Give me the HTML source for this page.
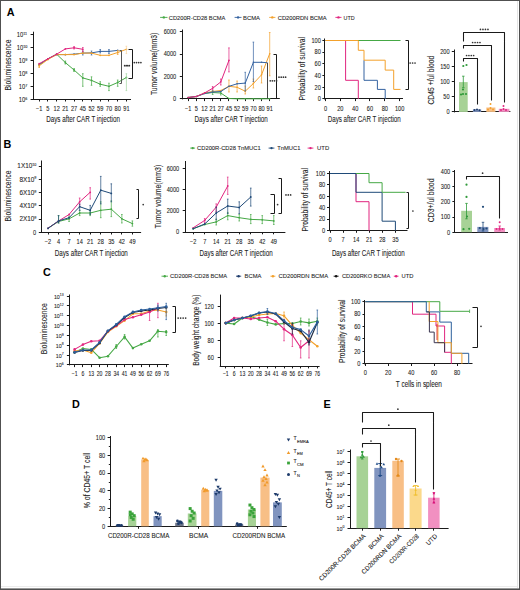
<!DOCTYPE html>
<html><head><meta charset="utf-8"><style>
html,body{margin:0;padding:0;background:#fff;}
body{width:520px;height:590px;overflow:hidden;position:relative;font-family:"Liberation Sans",sans-serif;}
svg{display:block;}
svg text{stroke:#222;stroke-width:0.08px;}
svg text[font-weight]{stroke:none;}
.frame{position:absolute;left:0;top:0;width:520px;height:590px;box-sizing:border-box;border:1px solid #505050;pointer-events:none;}
.f2{position:absolute;left:517px;top:1px;width:1px;height:587px;background:#e4e4e4;}
.f4{position:absolute;left:0;top:588px;width:520px;height:1px;background:#9a9a9a;}
.f3{position:absolute;left:1px;top:586px;width:516px;height:1px;background:#ececec;}
</style></head><body>
<svg width="520" height="590" viewBox="0 0 520 590" font-family="Liberation Sans, sans-serif">
<rect x="0" y="0" width="520" height="590" fill="#ffffff"/>
<text x="6.8" y="15.9" font-size="10.8" fill="#000" font-weight="bold">A</text>
<line x1="160.1" y1="17.4" x2="167.5" y2="17.4" stroke="#45a845" stroke-width="0.9"/>
<circle cx="163.8" cy="17.4" r="1.2" fill="#45a845"/>
<text x="168.8" y="19.6" font-size="6.2" fill="#222" textLength="56.6" lengthAdjust="spacingAndGlyphs">CD200R-CD28 BCMA</text>
<line x1="234.6" y1="17.4" x2="241.5" y2="17.4" stroke="#3563a0" stroke-width="0.9"/>
<circle cx="238.05" cy="17.4" r="1.2" fill="#3563a0"/>
<text x="243" y="19.6" font-size="6.2" fill="#222" textLength="17" lengthAdjust="spacingAndGlyphs">BCMA</text>
<line x1="269.2" y1="17.4" x2="275.4" y2="17.4" stroke="#f3a12c" stroke-width="0.9"/>
<circle cx="272.3" cy="17.4" r="1.2" fill="#f3a12c"/>
<text x="277.7" y="19.6" font-size="6.2" fill="#222" textLength="49" lengthAdjust="spacingAndGlyphs">CD200RDN BCMA</text>
<line x1="335.4" y1="17.4" x2="341.5" y2="17.4" stroke="#e1257f" stroke-width="0.9"/>
<circle cx="338.45" cy="17.4" r="1.2" fill="#e1257f"/>
<text x="343.5" y="19.6" font-size="6.2" fill="#222" textLength="11.1" lengthAdjust="spacingAndGlyphs">UTD</text>
<line x1="33.5" y1="31.7" x2="33.5" y2="99.8" stroke="#1a1a1a" stroke-width="1"/>
<line x1="33.1" y1="99.5" x2="131" y2="99.5" stroke="#1a1a1a" stroke-width="1"/>
<line x1="30.6" y1="99.5" x2="33.6" y2="99.5" stroke="#1a1a1a" stroke-width="1"/>
<text x="18.85" y="102.07" font-size="6.3" fill="#222"><tspan textLength="6.45" lengthAdjust="spacingAndGlyphs">10</tspan><tspan font-size="3.78" dy="-2.52">6</tspan></text>
<line x1="30.6" y1="86.5" x2="33.6" y2="86.5" stroke="#1a1a1a" stroke-width="1"/>
<text x="18.85" y="89.07" font-size="6.3" fill="#222"><tspan textLength="6.45" lengthAdjust="spacingAndGlyphs">10</tspan><tspan font-size="3.78" dy="-2.52">7</tspan></text>
<line x1="30.6" y1="73.5" x2="33.6" y2="73.5" stroke="#1a1a1a" stroke-width="1"/>
<text x="18.85" y="76.07" font-size="6.3" fill="#222"><tspan textLength="6.45" lengthAdjust="spacingAndGlyphs">10</tspan><tspan font-size="3.78" dy="-2.52">8</tspan></text>
<line x1="30.6" y1="60.5" x2="33.6" y2="60.5" stroke="#1a1a1a" stroke-width="1"/>
<text x="18.85" y="63.07" font-size="6.3" fill="#222"><tspan textLength="6.45" lengthAdjust="spacingAndGlyphs">10</tspan><tspan font-size="3.78" dy="-2.52">9</tspan></text>
<line x1="30.6" y1="47.5" x2="33.6" y2="47.5" stroke="#1a1a1a" stroke-width="1"/>
<text x="16.75" y="50.07" font-size="6.3" fill="#222"><tspan textLength="6.45" lengthAdjust="spacingAndGlyphs">10</tspan><tspan font-size="3.78" dy="-2.52">10</tspan></text>
<line x1="30.6" y1="34.5" x2="33.6" y2="34.5" stroke="#1a1a1a" stroke-width="1"/>
<text x="16.75" y="37.07" font-size="6.3" fill="#222"><tspan textLength="6.45" lengthAdjust="spacingAndGlyphs">10</tspan><tspan font-size="3.78" dy="-2.52">11</tspan></text>
<line x1="39.5" y1="99.3" x2="39.5" y2="101.5" stroke="#1a1a1a" stroke-width="1"/>
<text x="39.2" y="110.6" font-size="6.4" fill="#222" text-anchor="middle" textLength="6.42" lengthAdjust="spacingAndGlyphs">−1</text>
<line x1="47.5" y1="99.3" x2="47.5" y2="101.5" stroke="#1a1a1a" stroke-width="1"/>
<text x="47.92" y="110.6" font-size="6.4" fill="#222" text-anchor="middle" textLength="3.13" lengthAdjust="spacingAndGlyphs">5</text>
<line x1="56.5" y1="99.3" x2="56.5" y2="101.5" stroke="#1a1a1a" stroke-width="1"/>
<text x="56.64" y="110.6" font-size="6.4" fill="#222" text-anchor="middle" textLength="6.26" lengthAdjust="spacingAndGlyphs">12</text>
<line x1="65.5" y1="99.3" x2="65.5" y2="101.5" stroke="#1a1a1a" stroke-width="1"/>
<text x="65.36" y="110.6" font-size="6.4" fill="#222" text-anchor="middle" textLength="6.26" lengthAdjust="spacingAndGlyphs">21</text>
<line x1="74.5" y1="99.3" x2="74.5" y2="101.5" stroke="#1a1a1a" stroke-width="1"/>
<text x="74.08" y="110.6" font-size="6.4" fill="#222" text-anchor="middle" textLength="6.26" lengthAdjust="spacingAndGlyphs">27</text>
<line x1="82.5" y1="99.3" x2="82.5" y2="101.5" stroke="#1a1a1a" stroke-width="1"/>
<text x="82.8" y="110.6" font-size="6.4" fill="#222" text-anchor="middle" textLength="6.26" lengthAdjust="spacingAndGlyphs">45</text>
<line x1="91.5" y1="99.3" x2="91.5" y2="101.5" stroke="#1a1a1a" stroke-width="1"/>
<text x="91.52" y="110.6" font-size="6.4" fill="#222" text-anchor="middle" textLength="6.26" lengthAdjust="spacingAndGlyphs">52</text>
<line x1="100.5" y1="99.3" x2="100.5" y2="101.5" stroke="#1a1a1a" stroke-width="1"/>
<text x="100.24" y="110.6" font-size="6.4" fill="#222" text-anchor="middle" textLength="6.26" lengthAdjust="spacingAndGlyphs">59</text>
<line x1="108.5" y1="99.3" x2="108.5" y2="101.5" stroke="#1a1a1a" stroke-width="1"/>
<text x="108.96" y="110.6" font-size="6.4" fill="#222" text-anchor="middle" textLength="6.26" lengthAdjust="spacingAndGlyphs">70</text>
<line x1="117.5" y1="99.3" x2="117.5" y2="101.5" stroke="#1a1a1a" stroke-width="1"/>
<text x="117.68" y="110.6" font-size="6.4" fill="#222" text-anchor="middle" textLength="6.26" lengthAdjust="spacingAndGlyphs">80</text>
<line x1="126.5" y1="99.3" x2="126.5" y2="101.5" stroke="#1a1a1a" stroke-width="1"/>
<text x="126.4" y="110.6" font-size="6.4" fill="#222" text-anchor="middle" textLength="6.26" lengthAdjust="spacingAndGlyphs">91</text>
<text x="46.2" y="121.8" font-size="8.6" fill="#222" textLength="73.7" lengthAdjust="spacingAndGlyphs">Days after CAR T injection</text>
<text x="0" y="0" font-size="8.2" fill="#222" textLength="51" lengthAdjust="spacingAndGlyphs" transform="translate(10.75 90.6) rotate(-90)">Bioluminescence</text>
<polyline points="39.2,65 47.92,58.8 56.64,54.2 65.36,62.6 74.08,70 82.8,77.9 91.52,80.4 100.24,84.2 108.96,86.3 117.68,82.5 126.4,77.5" fill="none" stroke="#45a845" stroke-width="1.0" stroke-linejoin="round"/>
<circle cx="39.2" cy="65" r="0.9" fill="#45a845"/>
<circle cx="47.92" cy="58.8" r="0.9" fill="#45a845"/>
<circle cx="56.64" cy="54.2" r="0.9" fill="#45a845"/>
<circle cx="65.36" cy="62.6" r="0.9" fill="#45a845"/>
<circle cx="74.08" cy="70" r="0.9" fill="#45a845"/>
<circle cx="82.8" cy="77.9" r="0.9" fill="#45a845"/>
<circle cx="91.52" cy="80.4" r="0.9" fill="#45a845"/>
<circle cx="100.24" cy="84.2" r="0.9" fill="#45a845"/>
<circle cx="108.96" cy="86.3" r="0.9" fill="#45a845"/>
<circle cx="117.68" cy="82.5" r="0.9" fill="#45a845"/>
<circle cx="126.4" cy="77.5" r="0.9" fill="#45a845"/>
<line x1="82.8" y1="73.7" x2="82.8" y2="86.3" stroke="#45a845" stroke-width="0.7"/>
<line x1="82" y1="73.7" x2="83.6" y2="73.7" stroke="#45a845" stroke-width="0.7"/>
<line x1="82" y1="86.3" x2="83.6" y2="86.3" stroke="#45a845" stroke-width="0.7"/>
<line x1="91.52" y1="76.8" x2="91.52" y2="85.3" stroke="#45a845" stroke-width="0.7"/>
<line x1="90.72" y1="76.8" x2="92.32" y2="76.8" stroke="#45a845" stroke-width="0.7"/>
<line x1="90.72" y1="85.3" x2="92.32" y2="85.3" stroke="#45a845" stroke-width="0.7"/>
<line x1="100.24" y1="81.7" x2="100.24" y2="86.3" stroke="#45a845" stroke-width="0.7"/>
<line x1="99.44" y1="81.7" x2="101.04" y2="81.7" stroke="#45a845" stroke-width="0.7"/>
<line x1="99.44" y1="86.3" x2="101.04" y2="86.3" stroke="#45a845" stroke-width="0.7"/>
<line x1="108.96" y1="83.2" x2="108.96" y2="90.6" stroke="#45a845" stroke-width="0.7"/>
<line x1="108.16" y1="83.2" x2="109.76" y2="83.2" stroke="#45a845" stroke-width="0.7"/>
<line x1="108.16" y1="90.6" x2="109.76" y2="90.6" stroke="#45a845" stroke-width="0.7"/>
<line x1="117.68" y1="80" x2="117.68" y2="86.3" stroke="#45a845" stroke-width="0.7"/>
<line x1="116.88" y1="80" x2="118.48" y2="80" stroke="#45a845" stroke-width="0.7"/>
<line x1="116.88" y1="86.3" x2="118.48" y2="86.3" stroke="#45a845" stroke-width="0.7"/>
<line x1="126.4" y1="73.7" x2="126.4" y2="90.6" stroke="#a3d6a0" stroke-width="0.7"/>
<line x1="125.6" y1="73.7" x2="127.2" y2="73.7" stroke="#a3d6a0" stroke-width="0.7"/>
<line x1="125.6" y1="90.6" x2="127.2" y2="90.6" stroke="#a3d6a0" stroke-width="0.7"/>
<line x1="65.36" y1="61" x2="65.36" y2="64" stroke="#45a845" stroke-width="0.7"/>
<line x1="64.56" y1="61" x2="66.16" y2="61" stroke="#45a845" stroke-width="0.7"/>
<line x1="64.56" y1="64" x2="66.16" y2="64" stroke="#45a845" stroke-width="0.7"/>
<line x1="74.08" y1="68.5" x2="74.08" y2="71.5" stroke="#45a845" stroke-width="0.7"/>
<line x1="73.28" y1="68.5" x2="74.88" y2="68.5" stroke="#45a845" stroke-width="0.7"/>
<line x1="73.28" y1="71.5" x2="74.88" y2="71.5" stroke="#45a845" stroke-width="0.7"/>
<polyline points="39.2,64.5 47.92,58.8 56.64,54.6 65.36,54.6 74.08,54.2 82.8,53.1 91.52,52.9 100.24,51.4 108.96,51.4 117.68,50.4" fill="none" stroke="#3563a0" stroke-width="1.0" stroke-linejoin="round"/>
<circle cx="39.2" cy="64.5" r="0.9" fill="#3563a0"/>
<circle cx="47.92" cy="58.8" r="0.9" fill="#3563a0"/>
<circle cx="56.64" cy="54.6" r="0.9" fill="#3563a0"/>
<circle cx="65.36" cy="54.6" r="0.9" fill="#3563a0"/>
<circle cx="74.08" cy="54.2" r="0.9" fill="#3563a0"/>
<circle cx="82.8" cy="53.1" r="0.9" fill="#3563a0"/>
<circle cx="91.52" cy="52.9" r="0.9" fill="#3563a0"/>
<circle cx="100.24" cy="51.4" r="0.9" fill="#3563a0"/>
<circle cx="108.96" cy="51.4" r="0.9" fill="#3563a0"/>
<circle cx="117.68" cy="50.4" r="0.9" fill="#3563a0"/>
<line x1="82.8" y1="51" x2="82.8" y2="55" stroke="#3563a0" stroke-width="0.7"/>
<line x1="82" y1="51" x2="83.6" y2="51" stroke="#3563a0" stroke-width="0.7"/>
<line x1="82" y1="55" x2="83.6" y2="55" stroke="#3563a0" stroke-width="0.7"/>
<line x1="91.52" y1="51" x2="91.52" y2="55" stroke="#3563a0" stroke-width="0.7"/>
<line x1="90.72" y1="51" x2="92.32" y2="51" stroke="#3563a0" stroke-width="0.7"/>
<line x1="90.72" y1="55" x2="92.32" y2="55" stroke="#3563a0" stroke-width="0.7"/>
<line x1="100.24" y1="49.5" x2="100.24" y2="53" stroke="#3563a0" stroke-width="0.7"/>
<line x1="99.44" y1="49.5" x2="101.04" y2="49.5" stroke="#3563a0" stroke-width="0.7"/>
<line x1="99.44" y1="53" x2="101.04" y2="53" stroke="#3563a0" stroke-width="0.7"/>
<line x1="108.96" y1="49.5" x2="108.96" y2="53.5" stroke="#3563a0" stroke-width="0.7"/>
<line x1="108.16" y1="49.5" x2="109.76" y2="49.5" stroke="#3563a0" stroke-width="0.7"/>
<line x1="108.16" y1="53.5" x2="109.76" y2="53.5" stroke="#3563a0" stroke-width="0.7"/>
<polyline points="39.2,65.8 47.92,59.5 56.64,54.6 65.36,54.6 74.08,54.6 82.8,53.1 91.52,53.1 100.24,55.3 108.96,55.3 117.68,52.5 126.4,49.3" fill="none" stroke="#f3a12c" stroke-width="1.0" stroke-linejoin="round"/>
<circle cx="39.2" cy="65.8" r="0.9" fill="#f3a12c"/>
<circle cx="47.92" cy="59.5" r="0.9" fill="#f3a12c"/>
<circle cx="56.64" cy="54.6" r="0.9" fill="#f3a12c"/>
<circle cx="65.36" cy="54.6" r="0.9" fill="#f3a12c"/>
<circle cx="74.08" cy="54.6" r="0.9" fill="#f3a12c"/>
<circle cx="82.8" cy="53.1" r="0.9" fill="#f3a12c"/>
<circle cx="91.52" cy="53.1" r="0.9" fill="#f3a12c"/>
<circle cx="100.24" cy="55.3" r="0.9" fill="#f3a12c"/>
<circle cx="108.96" cy="55.3" r="0.9" fill="#f3a12c"/>
<circle cx="117.68" cy="52.5" r="0.9" fill="#f3a12c"/>
<circle cx="126.4" cy="49.3" r="0.9" fill="#f3a12c"/>
<line x1="126.4" y1="46.2" x2="126.4" y2="53.6" stroke="#f8d29c" stroke-width="0.7"/>
<line x1="125.6" y1="46.2" x2="127.2" y2="46.2" stroke="#f8d29c" stroke-width="0.7"/>
<line x1="125.6" y1="53.6" x2="127.2" y2="53.6" stroke="#f8d29c" stroke-width="0.7"/>
<line x1="117.68" y1="50.5" x2="117.68" y2="54.5" stroke="#f3a12c" stroke-width="0.7"/>
<line x1="116.88" y1="50.5" x2="118.48" y2="50.5" stroke="#f3a12c" stroke-width="0.7"/>
<line x1="116.88" y1="54.5" x2="118.48" y2="54.5" stroke="#f3a12c" stroke-width="0.7"/>
<line x1="39.2" y1="64" x2="39.2" y2="67.5" stroke="#f3a12c" stroke-width="0.7"/>
<line x1="38.4" y1="64" x2="40" y2="64" stroke="#f3a12c" stroke-width="0.7"/>
<line x1="38.4" y1="67.5" x2="40" y2="67.5" stroke="#f3a12c" stroke-width="0.7"/>
<polyline points="39.2,63.7 47.92,58.8 56.64,54.2 65.36,48.9 74.08,47.8 82.8,49.3" fill="none" stroke="#e1257f" stroke-width="1.0" stroke-linejoin="round"/>
<circle cx="39.2" cy="63.7" r="0.9" fill="#e1257f"/>
<circle cx="47.92" cy="58.8" r="0.9" fill="#e1257f"/>
<circle cx="56.64" cy="54.2" r="0.9" fill="#e1257f"/>
<circle cx="65.36" cy="48.9" r="0.9" fill="#e1257f"/>
<circle cx="74.08" cy="47.8" r="0.9" fill="#e1257f"/>
<circle cx="82.8" cy="49.3" r="0.9" fill="#e1257f"/>
<line x1="74.08" y1="46.5" x2="74.08" y2="49" stroke="#e1257f" stroke-width="0.7"/>
<line x1="73.28" y1="46.5" x2="74.88" y2="46.5" stroke="#e1257f" stroke-width="0.7"/>
<line x1="73.28" y1="49" x2="74.88" y2="49" stroke="#e1257f" stroke-width="0.7"/>
<line x1="82.8" y1="47.5" x2="82.8" y2="51.5" stroke="#e1257f" stroke-width="0.7"/>
<line x1="82" y1="47.5" x2="83.6" y2="47.5" stroke="#e1257f" stroke-width="0.7"/>
<line x1="82" y1="51.5" x2="83.6" y2="51.5" stroke="#e1257f" stroke-width="0.7"/>
<polyline points="119.5,50.5 121.5,50.5 121.5,83.5 119.5,83.5" fill="none" stroke="#555" stroke-width="1" stroke-linejoin="round"/>
<circle cx="124.68" cy="65.7" r="0.85" fill="#333"/>
<circle cx="126.23" cy="65.7" r="0.85" fill="#333"/>
<circle cx="127.78" cy="65.7" r="0.85" fill="#333"/>
<circle cx="129.33" cy="65.7" r="0.85" fill="#333"/>
<polyline points="128.5,49.5 132.5,49.5 132.5,78.5 128.5,78.5" fill="none" stroke="#1a1a1a" stroke-width="1" stroke-linejoin="round"/>
<circle cx="134.3" cy="62.6" r="0.85" fill="#333"/>
<circle cx="136.5" cy="62.6" r="0.85" fill="#333"/>
<circle cx="138.7" cy="62.6" r="0.85" fill="#333"/>
<circle cx="140.9" cy="62.6" r="0.85" fill="#333"/>
<line x1="182.5" y1="29.5" x2="182.5" y2="99.4" stroke="#1a1a1a" stroke-width="1"/>
<line x1="181.8" y1="98.5" x2="279.8" y2="98.5" stroke="#1a1a1a" stroke-width="1"/>
<line x1="179.8" y1="98.5" x2="182.3" y2="98.5" stroke="#1a1a1a" stroke-width="1"/>
<text x="176.2" y="101.2" font-size="6.4" fill="#222" text-anchor="end" textLength="3.13" lengthAdjust="spacingAndGlyphs">0</text>
<line x1="179.8" y1="76.5" x2="182.3" y2="76.5" stroke="#1a1a1a" stroke-width="1"/>
<text x="176.2" y="78.77" font-size="6.4" fill="#222" text-anchor="end" textLength="12.53" lengthAdjust="spacingAndGlyphs">2000</text>
<line x1="179.8" y1="54.5" x2="182.3" y2="54.5" stroke="#1a1a1a" stroke-width="1"/>
<text x="176.2" y="56.34" font-size="6.4" fill="#222" text-anchor="end" textLength="12.53" lengthAdjust="spacingAndGlyphs">4000</text>
<line x1="179.8" y1="31.5" x2="182.3" y2="31.5" stroke="#1a1a1a" stroke-width="1"/>
<text x="176.2" y="33.91" font-size="6.4" fill="#222" text-anchor="end" textLength="12.53" lengthAdjust="spacingAndGlyphs">6000</text>
<line x1="188.5" y1="98.9" x2="188.5" y2="101.1" stroke="#1a1a1a" stroke-width="1"/>
<text x="188.2" y="110.6" font-size="6.4" fill="#222" text-anchor="middle" textLength="6.42" lengthAdjust="spacingAndGlyphs">−1</text>
<line x1="196.5" y1="98.9" x2="196.5" y2="101.1" stroke="#1a1a1a" stroke-width="1"/>
<text x="196.35" y="110.6" font-size="6.4" fill="#222" text-anchor="middle" textLength="3.13" lengthAdjust="spacingAndGlyphs">5</text>
<line x1="204.5" y1="98.9" x2="204.5" y2="101.1" stroke="#1a1a1a" stroke-width="1"/>
<text x="204.5" y="110.6" font-size="6.4" fill="#222" text-anchor="middle" textLength="6.26" lengthAdjust="spacingAndGlyphs">12</text>
<line x1="212.5" y1="98.9" x2="212.5" y2="101.1" stroke="#1a1a1a" stroke-width="1"/>
<text x="212.65" y="110.6" font-size="6.4" fill="#222" text-anchor="middle" textLength="6.26" lengthAdjust="spacingAndGlyphs">21</text>
<line x1="220.5" y1="98.9" x2="220.5" y2="101.1" stroke="#1a1a1a" stroke-width="1"/>
<text x="220.8" y="110.6" font-size="6.4" fill="#222" text-anchor="middle" textLength="6.26" lengthAdjust="spacingAndGlyphs">27</text>
<line x1="228.5" y1="98.9" x2="228.5" y2="101.1" stroke="#1a1a1a" stroke-width="1"/>
<text x="228.95" y="110.6" font-size="6.4" fill="#222" text-anchor="middle" textLength="6.26" lengthAdjust="spacingAndGlyphs">45</text>
<line x1="237.5" y1="98.9" x2="237.5" y2="101.1" stroke="#1a1a1a" stroke-width="1"/>
<text x="237.1" y="110.6" font-size="6.4" fill="#222" text-anchor="middle" textLength="6.26" lengthAdjust="spacingAndGlyphs">52</text>
<line x1="245.5" y1="98.9" x2="245.5" y2="101.1" stroke="#1a1a1a" stroke-width="1"/>
<text x="245.25" y="110.6" font-size="6.4" fill="#222" text-anchor="middle" textLength="6.26" lengthAdjust="spacingAndGlyphs">59</text>
<line x1="253.5" y1="98.9" x2="253.5" y2="101.1" stroke="#1a1a1a" stroke-width="1"/>
<text x="253.4" y="110.6" font-size="6.4" fill="#222" text-anchor="middle" textLength="6.26" lengthAdjust="spacingAndGlyphs">70</text>
<line x1="261.5" y1="98.9" x2="261.5" y2="101.1" stroke="#1a1a1a" stroke-width="1"/>
<text x="261.55" y="110.6" font-size="6.4" fill="#222" text-anchor="middle" textLength="6.26" lengthAdjust="spacingAndGlyphs">80</text>
<line x1="269.5" y1="98.9" x2="269.5" y2="101.1" stroke="#1a1a1a" stroke-width="1"/>
<text x="269.7" y="110.6" font-size="6.4" fill="#222" text-anchor="middle" textLength="6.26" lengthAdjust="spacingAndGlyphs">91</text>
<text x="194.6" y="121.8" font-size="8.6" fill="#222" textLength="73.1" lengthAdjust="spacingAndGlyphs">Days after CAR T injection</text>
<text x="0" y="0" font-size="8.2" fill="#222" textLength="62.3" lengthAdjust="spacingAndGlyphs" transform="translate(157.35 95) rotate(-90)">Tumor volume(mm3)</text>
<polyline points="188.2,97.5 196.35,96.5 204.5,93.5 212.65,92.5 220.8,93 228.95,98.5 237.1,98.8 245.25,98.8 253.4,98.8 261.55,98.8 269.7,98.8" fill="none" stroke="#45a845" stroke-width="1.0" stroke-linejoin="round"/>
<circle cx="188.2" cy="97.5" r="0.8" fill="#45a845"/>
<circle cx="196.35" cy="96.5" r="0.8" fill="#45a845"/>
<circle cx="204.5" cy="93.5" r="0.8" fill="#45a845"/>
<circle cx="212.65" cy="92.5" r="0.8" fill="#45a845"/>
<circle cx="220.8" cy="93" r="0.8" fill="#45a845"/>
<circle cx="228.95" cy="98.5" r="0.8" fill="#45a845"/>
<circle cx="237.1" cy="98.8" r="0.8" fill="#45a845"/>
<circle cx="245.25" cy="98.8" r="0.8" fill="#45a845"/>
<circle cx="253.4" cy="98.8" r="0.8" fill="#45a845"/>
<circle cx="261.55" cy="98.8" r="0.8" fill="#45a845"/>
<circle cx="269.7" cy="98.8" r="0.8" fill="#45a845"/>
<line x1="212.65" y1="90.5" x2="212.65" y2="94.5" stroke="#45a845" stroke-width="0.7"/>
<line x1="211.85" y1="90.5" x2="213.45" y2="90.5" stroke="#45a845" stroke-width="0.7"/>
<line x1="211.85" y1="94.5" x2="213.45" y2="94.5" stroke="#45a845" stroke-width="0.7"/>
<line x1="220.8" y1="91" x2="220.8" y2="95" stroke="#45a845" stroke-width="0.7"/>
<line x1="220" y1="91" x2="221.6" y2="91" stroke="#45a845" stroke-width="0.7"/>
<line x1="220" y1="95" x2="221.6" y2="95" stroke="#45a845" stroke-width="0.7"/>
<polyline points="188.2,97.5 196.35,96.5 204.5,93 212.65,91.5 220.8,90.5 228.95,86.3 237.1,87.3 245.25,91.2 253.4,83.5 261.55,74.8 269.7,53.7" fill="none" stroke="#f3a12c" stroke-width="1.0" stroke-linejoin="round"/>
<circle cx="188.2" cy="97.5" r="0.8" fill="#f3a12c"/>
<circle cx="196.35" cy="96.5" r="0.8" fill="#f3a12c"/>
<circle cx="204.5" cy="93" r="0.8" fill="#f3a12c"/>
<circle cx="212.65" cy="91.5" r="0.8" fill="#f3a12c"/>
<circle cx="220.8" cy="90.5" r="0.8" fill="#f3a12c"/>
<circle cx="228.95" cy="86.3" r="0.8" fill="#f3a12c"/>
<circle cx="237.1" cy="87.3" r="0.8" fill="#f3a12c"/>
<circle cx="245.25" cy="91.2" r="0.8" fill="#f3a12c"/>
<circle cx="253.4" cy="83.5" r="0.8" fill="#f3a12c"/>
<circle cx="261.55" cy="74.8" r="0.8" fill="#f3a12c"/>
<circle cx="269.7" cy="53.7" r="0.8" fill="#f3a12c"/>
<line x1="228.95" y1="80" x2="228.95" y2="92" stroke="#f3a12c" stroke-width="0.7"/>
<line x1="228.15" y1="80" x2="229.75" y2="80" stroke="#f3a12c" stroke-width="0.7"/>
<line x1="228.15" y1="92" x2="229.75" y2="92" stroke="#f3a12c" stroke-width="0.7"/>
<line x1="237.1" y1="81" x2="237.1" y2="92" stroke="#f3a12c" stroke-width="0.7"/>
<line x1="236.3" y1="81" x2="237.9" y2="81" stroke="#f3a12c" stroke-width="0.7"/>
<line x1="236.3" y1="92" x2="237.9" y2="92" stroke="#f3a12c" stroke-width="0.7"/>
<line x1="245.25" y1="86" x2="245.25" y2="94" stroke="#f3a12c" stroke-width="0.7"/>
<line x1="244.45" y1="86" x2="246.05" y2="86" stroke="#f3a12c" stroke-width="0.7"/>
<line x1="244.45" y1="94" x2="246.05" y2="94" stroke="#f3a12c" stroke-width="0.7"/>
<line x1="253.4" y1="79" x2="253.4" y2="88" stroke="#f3a12c" stroke-width="0.7"/>
<line x1="252.6" y1="79" x2="254.2" y2="79" stroke="#f3a12c" stroke-width="0.7"/>
<line x1="252.6" y1="88" x2="254.2" y2="88" stroke="#f3a12c" stroke-width="0.7"/>
<line x1="261.55" y1="66" x2="261.55" y2="83" stroke="#f3a12c" stroke-width="0.7"/>
<line x1="260.75" y1="66" x2="262.35" y2="66" stroke="#f3a12c" stroke-width="0.7"/>
<line x1="260.75" y1="83" x2="262.35" y2="83" stroke="#f3a12c" stroke-width="0.7"/>
<line x1="269.7" y1="32.5" x2="269.7" y2="75.8" stroke="#f3a12c" stroke-width="0.7"/>
<line x1="268.9" y1="32.5" x2="270.5" y2="32.5" stroke="#f3a12c" stroke-width="0.7"/>
<line x1="268.9" y1="75.8" x2="270.5" y2="75.8" stroke="#f3a12c" stroke-width="0.7"/>
<polyline points="188.2,97.5 196.35,96.5 204.5,93.5 212.65,92 220.8,91.5 228.95,86.3 237.1,83.8 245.25,83.1 253.4,62.3 261.55,62.3 267,62.7" fill="none" stroke="#3563a0" stroke-width="1.0" stroke-linejoin="round"/>
<circle cx="188.2" cy="97.5" r="0.8" fill="#3563a0"/>
<circle cx="196.35" cy="96.5" r="0.8" fill="#3563a0"/>
<circle cx="204.5" cy="93.5" r="0.8" fill="#3563a0"/>
<circle cx="212.65" cy="92" r="0.8" fill="#3563a0"/>
<circle cx="220.8" cy="91.5" r="0.8" fill="#3563a0"/>
<circle cx="228.95" cy="86.3" r="0.8" fill="#3563a0"/>
<circle cx="237.1" cy="83.8" r="0.8" fill="#3563a0"/>
<circle cx="245.25" cy="83.1" r="0.8" fill="#3563a0"/>
<circle cx="253.4" cy="62.3" r="0.8" fill="#3563a0"/>
<circle cx="261.55" cy="62.3" r="0.8" fill="#3563a0"/>
<line x1="245.25" y1="72.3" x2="245.25" y2="91" stroke="#3563a0" stroke-width="0.7"/>
<line x1="244.45" y1="72.3" x2="246.05" y2="72.3" stroke="#3563a0" stroke-width="0.7"/>
<line x1="244.45" y1="91" x2="246.05" y2="91" stroke="#3563a0" stroke-width="0.7"/>
<line x1="253.4" y1="42.1" x2="253.4" y2="81.5" stroke="#3563a0" stroke-width="0.7"/>
<line x1="252.6" y1="42.1" x2="254.2" y2="42.1" stroke="#3563a0" stroke-width="0.7"/>
<line x1="252.6" y1="81.5" x2="254.2" y2="81.5" stroke="#3563a0" stroke-width="0.7"/>
<polyline points="188.2,97.5 196.35,96.5 204.5,93 212.65,88.3 220.8,81.9 228.95,60.4" fill="none" stroke="#e1257f" stroke-width="1.0" stroke-linejoin="round"/>
<circle cx="188.2" cy="97.5" r="0.8" fill="#e1257f"/>
<circle cx="196.35" cy="96.5" r="0.8" fill="#e1257f"/>
<circle cx="204.5" cy="93" r="0.8" fill="#e1257f"/>
<circle cx="212.65" cy="88.3" r="0.8" fill="#e1257f"/>
<circle cx="220.8" cy="81.9" r="0.8" fill="#e1257f"/>
<circle cx="228.95" cy="60.4" r="0.8" fill="#e1257f"/>
<line x1="228.95" y1="47.9" x2="228.95" y2="71.9" stroke="#e1257f" stroke-width="0.7"/>
<line x1="228.15" y1="47.9" x2="229.75" y2="47.9" stroke="#e1257f" stroke-width="0.7"/>
<line x1="228.15" y1="71.9" x2="229.75" y2="71.9" stroke="#e1257f" stroke-width="0.7"/>
<line x1="220.8" y1="79" x2="220.8" y2="85" stroke="#e1257f" stroke-width="0.7"/>
<line x1="220" y1="79" x2="221.6" y2="79" stroke="#e1257f" stroke-width="0.7"/>
<line x1="220" y1="85" x2="221.6" y2="85" stroke="#e1257f" stroke-width="0.7"/>
<line x1="212.65" y1="86.5" x2="212.65" y2="90" stroke="#e1257f" stroke-width="0.7"/>
<line x1="211.85" y1="86.5" x2="213.45" y2="86.5" stroke="#e1257f" stroke-width="0.7"/>
<line x1="211.85" y1="90" x2="213.45" y2="90" stroke="#e1257f" stroke-width="0.7"/>
<line x1="267.5" y1="62.6" x2="267.5" y2="98.4" stroke="#444" stroke-width="1"/>
<polyline points="273.5,54.5 276.5,54.5 276.5,98.5 273.5,98.5" fill="none" stroke="#1a1a1a" stroke-width="1" stroke-linejoin="round"/>
<circle cx="270.21" cy="80.8" r="0.85" fill="#333"/>
<circle cx="272.34" cy="80.8" r="0.85" fill="#333"/>
<circle cx="274.46" cy="80.8" r="0.85" fill="#333"/>
<circle cx="276.59" cy="80.8" r="0.85" fill="#333"/>
<circle cx="279" cy="77.2" r="0.85" fill="#333"/>
<circle cx="281.2" cy="77.2" r="0.85" fill="#333"/>
<circle cx="283.4" cy="77.2" r="0.85" fill="#333"/>
<circle cx="285.6" cy="77.2" r="0.85" fill="#333"/>
<line x1="324.5" y1="38.5" x2="324.5" y2="99.4" stroke="#1a1a1a" stroke-width="1"/>
<line x1="324.4" y1="98.5" x2="403" y2="98.5" stroke="#1a1a1a" stroke-width="1"/>
<line x1="322.4" y1="98.5" x2="324.9" y2="98.5" stroke="#1a1a1a" stroke-width="1"/>
<text x="320.8" y="101.2" font-size="6.4" fill="#222" text-anchor="end" textLength="3.13" lengthAdjust="spacingAndGlyphs">0</text>
<line x1="322.4" y1="87.5" x2="324.9" y2="87.5" stroke="#1a1a1a" stroke-width="1"/>
<text x="320.8" y="89.52" font-size="6.4" fill="#222" text-anchor="end" textLength="6.26" lengthAdjust="spacingAndGlyphs">20</text>
<line x1="322.4" y1="75.5" x2="324.9" y2="75.5" stroke="#1a1a1a" stroke-width="1"/>
<text x="320.8" y="77.84" font-size="6.4" fill="#222" text-anchor="end" textLength="6.26" lengthAdjust="spacingAndGlyphs">40</text>
<line x1="322.4" y1="63.5" x2="324.9" y2="63.5" stroke="#1a1a1a" stroke-width="1"/>
<text x="320.8" y="66.16" font-size="6.4" fill="#222" text-anchor="end" textLength="6.26" lengthAdjust="spacingAndGlyphs">60</text>
<line x1="322.4" y1="52.5" x2="324.9" y2="52.5" stroke="#1a1a1a" stroke-width="1"/>
<text x="320.8" y="54.48" font-size="6.4" fill="#222" text-anchor="end" textLength="6.26" lengthAdjust="spacingAndGlyphs">80</text>
<line x1="322.4" y1="40.5" x2="324.9" y2="40.5" stroke="#1a1a1a" stroke-width="1"/>
<text x="320.8" y="42.8" font-size="6.4" fill="#222" text-anchor="end" textLength="9.4" lengthAdjust="spacingAndGlyphs">100</text>
<line x1="325.5" y1="98.9" x2="325.5" y2="101.1" stroke="#1a1a1a" stroke-width="1"/>
<text x="325.5" y="110.6" font-size="6.4" fill="#222" text-anchor="middle" textLength="3.13" lengthAdjust="spacingAndGlyphs">0</text>
<line x1="340.5" y1="98.9" x2="340.5" y2="101.1" stroke="#1a1a1a" stroke-width="1"/>
<text x="340.32" y="110.6" font-size="6.4" fill="#222" text-anchor="middle" textLength="6.26" lengthAdjust="spacingAndGlyphs">20</text>
<line x1="355.5" y1="98.9" x2="355.5" y2="101.1" stroke="#1a1a1a" stroke-width="1"/>
<text x="355.14" y="110.6" font-size="6.4" fill="#222" text-anchor="middle" textLength="6.26" lengthAdjust="spacingAndGlyphs">40</text>
<line x1="369.5" y1="98.9" x2="369.5" y2="101.1" stroke="#1a1a1a" stroke-width="1"/>
<text x="369.96" y="110.6" font-size="6.4" fill="#222" text-anchor="middle" textLength="6.26" lengthAdjust="spacingAndGlyphs">60</text>
<line x1="384.5" y1="98.9" x2="384.5" y2="101.1" stroke="#1a1a1a" stroke-width="1"/>
<text x="384.78" y="110.6" font-size="6.4" fill="#222" text-anchor="middle" textLength="6.26" lengthAdjust="spacingAndGlyphs">80</text>
<line x1="399.5" y1="98.9" x2="399.5" y2="101.1" stroke="#1a1a1a" stroke-width="1"/>
<text x="399.6" y="110.6" font-size="6.4" fill="#222" text-anchor="middle" textLength="9.4" lengthAdjust="spacingAndGlyphs">100</text>
<text x="327.7" y="121.8" font-size="8.6" fill="#222" textLength="73.1" lengthAdjust="spacingAndGlyphs">Days after CAR T injection</text>
<text x="0" y="0" font-size="8.2" fill="#222" textLength="63.4" lengthAdjust="spacingAndGlyphs" transform="translate(304.55 100.4) rotate(-90)">Probability of survival</text>
<polyline points="364,60.2 364,80.3 377.4,80.3 377.4,89.4 385.2,89.4 385.2,98.9" fill="none" stroke="#3563a0" stroke-width="1" stroke-linejoin="round"/>
<polyline points="325.5,40.5 345.6,40.5 345.6,80.3 358.3,80.3 358.3,98.9" fill="none" stroke="#e1257f" stroke-width="1" stroke-linejoin="round"/>
<polyline points="325.5,40.5 400.5,40.5" fill="none" stroke="#45a845" stroke-width="1" stroke-linejoin="round"/>
<polyline points="325.5,40.5 358.3,40.5 358.3,50.3 364,50.3 364,60.2 385.2,60.2 385.2,70.1 393.7,70.1 393.7,89.4 400.5,89.4" fill="none" stroke="#f3a12c" stroke-width="1" stroke-linejoin="round"/>
<polyline points="405.5,40.5 408.5,40.5 408.5,89.5 405.5,89.5" fill="none" stroke="#1a1a1a" stroke-width="1" stroke-linejoin="round"/>
<circle cx="410.17" cy="63" r="0.85" fill="#333"/>
<circle cx="412.6" cy="63" r="0.85" fill="#333"/>
<circle cx="415.03" cy="63" r="0.85" fill="#333"/>
<line x1="454.5" y1="49.5" x2="454.5" y2="112.4" stroke="#1a1a1a" stroke-width="1"/>
<line x1="453.8" y1="111.5" x2="510.4" y2="111.5" stroke="#1a1a1a" stroke-width="1"/>
<line x1="451.8" y1="111.5" x2="454.3" y2="111.5" stroke="#1a1a1a" stroke-width="1"/>
<text x="449.6" y="114.2" font-size="6.4" fill="#222" text-anchor="end" textLength="3.13" lengthAdjust="spacingAndGlyphs">0</text>
<line x1="451.8" y1="96.5" x2="454.3" y2="96.5" stroke="#1a1a1a" stroke-width="1"/>
<text x="449.6" y="99.15" font-size="6.4" fill="#222" text-anchor="end" textLength="6.26" lengthAdjust="spacingAndGlyphs">50</text>
<line x1="451.8" y1="81.5" x2="454.3" y2="81.5" stroke="#1a1a1a" stroke-width="1"/>
<text x="449.6" y="84.1" font-size="6.4" fill="#222" text-anchor="end" textLength="9.4" lengthAdjust="spacingAndGlyphs">100</text>
<line x1="451.8" y1="66.5" x2="454.3" y2="66.5" stroke="#1a1a1a" stroke-width="1"/>
<text x="449.6" y="69.05" font-size="6.4" fill="#222" text-anchor="end" textLength="9.4" lengthAdjust="spacingAndGlyphs">150</text>
<line x1="451.8" y1="51.5" x2="454.3" y2="51.5" stroke="#1a1a1a" stroke-width="1"/>
<text x="449.6" y="54" font-size="6.4" fill="#222" text-anchor="end" textLength="9.4" lengthAdjust="spacingAndGlyphs">200</text>
<text x="0" y="0" font-size="8.2" fill="#222" textLength="49" lengthAdjust="spacingAndGlyphs" transform="translate(433.55 104.6) rotate(-90)">CD45 +/ul blood</text>
<rect x="459" y="82.1" width="8.7" height="29.8" fill="#a7d296"/>
<rect x="472.9" y="109.4" width="8.3" height="2.5" fill="#8094bf"/>
<rect x="486.3" y="107.5" width="9.1" height="4.4" fill="#f8bf86"/>
<rect x="498.8" y="108.8" width="10.6" height="3.1" fill="#f190c1"/>
<line x1="463.3" y1="76.2" x2="463.3" y2="87.7" stroke="#2f9a3a" stroke-width="0.8"/>
<line x1="462.05" y1="76.2" x2="464.55" y2="76.2" stroke="#2f9a3a" stroke-width="0.8"/>
<line x1="462.05" y1="87.7" x2="464.55" y2="87.7" stroke="#2f9a3a" stroke-width="0.8"/>
<circle cx="463.3" cy="66" r="1.1" fill="#2f9a3a"/>
<circle cx="466.5" cy="65" r="1.1" fill="#2f9a3a"/>
<circle cx="461" cy="94.5" r="1.1" fill="#2f9a3a"/>
<circle cx="463" cy="94" r="1.1" fill="#2f9a3a"/>
<circle cx="466" cy="94" r="1.1" fill="#2f9a3a"/>
<circle cx="463" cy="89.5" r="1.1" fill="#2f9a3a"/>
<circle cx="474.5" cy="110" r="1" fill="#1d3b6b"/>
<circle cx="477" cy="109.5" r="1" fill="#1d3b6b"/>
<circle cx="479.5" cy="110.2" r="1" fill="#1d3b6b"/>
<circle cx="488" cy="109.5" r="1" fill="#f3a12c"/>
<circle cx="490.5" cy="108" r="1" fill="#f3a12c"/>
<circle cx="493" cy="109.5" r="1" fill="#f3a12c"/>
<circle cx="490.5" cy="104" r="1" fill="#f3a12c"/>
<circle cx="501" cy="110" r="1" fill="#e1257f"/>
<circle cx="503.5" cy="109" r="1" fill="#e1257f"/>
<circle cx="506" cy="110" r="1" fill="#e1257f"/>
<circle cx="503.5" cy="106" r="1" fill="#e1257f"/>
<polyline points="463.5,61.5 463.5,58.5 477.5,58.5 477.5,104.5" fill="none" stroke="#1a1a1a" stroke-width="1.05" stroke-linejoin="round"/>
<polyline points="463.5,48.5 463.5,45.5 491.5,45.5 491.5,100.5" fill="none" stroke="#1a1a1a" stroke-width="1.05" stroke-linejoin="round"/>
<polyline points="463.5,41.5 463.5,32.5 504.5,32.5 504.5,102.5" fill="none" stroke="#1a1a1a" stroke-width="1.05" stroke-linejoin="round"/>
<circle cx="466.58" cy="55.5" r="0.85" fill="#333"/>
<circle cx="468.93" cy="55.5" r="0.85" fill="#333"/>
<circle cx="471.28" cy="55.5" r="0.85" fill="#333"/>
<circle cx="473.63" cy="55.5" r="0.85" fill="#333"/>
<circle cx="472.63" cy="42.5" r="0.85" fill="#333"/>
<circle cx="475.08" cy="42.5" r="0.85" fill="#333"/>
<circle cx="477.53" cy="42.5" r="0.85" fill="#333"/>
<circle cx="479.98" cy="42.5" r="0.85" fill="#333"/>
<circle cx="480.45" cy="29.4" r="0.85" fill="#333"/>
<circle cx="482.95" cy="29.4" r="0.85" fill="#333"/>
<circle cx="485.45" cy="29.4" r="0.85" fill="#333"/>
<circle cx="487.95" cy="29.4" r="0.85" fill="#333"/>
<text x="3.6" y="148.3" font-size="10.8" fill="#000" font-weight="bold">B</text>
<line x1="190.2" y1="148.1" x2="195.1" y2="148.1" stroke="#45a845" stroke-width="0.9"/>
<circle cx="192.65" cy="148.1" r="1.2" fill="#45a845"/>
<text x="197.1" y="150.3" font-size="6.2" fill="#222" textLength="63.5" lengthAdjust="spacingAndGlyphs">CD200R-CD28 TnMUC1</text>
<line x1="268.6" y1="148.1" x2="274.4" y2="148.1" stroke="#1f4a78" stroke-width="0.9"/>
<circle cx="271.5" cy="148.1" r="1.2" fill="#1f4a78"/>
<text x="277.3" y="150.3" font-size="6.2" fill="#222" textLength="23.1" lengthAdjust="spacingAndGlyphs">TnMUC1</text>
<line x1="307.6" y1="148.1" x2="313.4" y2="148.1" stroke="#e1257f" stroke-width="0.9"/>
<circle cx="310.5" cy="148.1" r="1.2" fill="#e1257f"/>
<text x="317.1" y="150.3" font-size="6.2" fill="#222" textLength="12.1" lengthAdjust="spacingAndGlyphs">UTD</text>
<line x1="41.5" y1="160.5" x2="41.5" y2="232.8" stroke="#1a1a1a" stroke-width="1"/>
<line x1="40.8" y1="232.5" x2="141.1" y2="232.5" stroke="#1a1a1a" stroke-width="1"/>
<line x1="38.8" y1="232.5" x2="41.3" y2="232.5" stroke="#1a1a1a" stroke-width="1"/>
<text x="36.2" y="234.6" font-size="6.4" fill="#222" text-anchor="end" textLength="3.13" lengthAdjust="spacingAndGlyphs">0</text>
<line x1="38.8" y1="219.5" x2="41.3" y2="219.5" stroke="#1a1a1a" stroke-width="1"/>
<text x="36.4" y="221.2" font-size="6.4" fill="#222" text-anchor="end">2X10<tspan font-size="3.71" dy="-2.3">9</tspan></text>
<line x1="38.8" y1="205.5" x2="41.3" y2="205.5" stroke="#1a1a1a" stroke-width="1"/>
<text x="36.4" y="208" font-size="6.4" fill="#222" text-anchor="end">4X10<tspan font-size="3.71" dy="-2.3">9</tspan></text>
<line x1="38.8" y1="192.5" x2="41.3" y2="192.5" stroke="#1a1a1a" stroke-width="1"/>
<text x="36.4" y="194.8" font-size="6.4" fill="#222" text-anchor="end">6X10<tspan font-size="3.71" dy="-2.3">9</tspan></text>
<line x1="38.8" y1="179.5" x2="41.3" y2="179.5" stroke="#1a1a1a" stroke-width="1"/>
<text x="36.4" y="181.6" font-size="6.4" fill="#222" text-anchor="end">8X10<tspan font-size="3.71" dy="-2.3">9</tspan></text>
<line x1="38.8" y1="166.5" x2="41.3" y2="166.5" stroke="#1a1a1a" stroke-width="1"/>
<text x="36.4" y="168.4" font-size="6.4" fill="#222" text-anchor="end">1X10<tspan font-size="3.71" dy="-2.3">10</tspan></text>
<line x1="48.5" y1="232.3" x2="48.5" y2="234.5" stroke="#1a1a1a" stroke-width="1"/>
<text x="48" y="243.6" font-size="6.4" fill="#222" text-anchor="middle" textLength="6.42" lengthAdjust="spacingAndGlyphs">−2</text>
<line x1="58.5" y1="232.3" x2="58.5" y2="234.5" stroke="#1a1a1a" stroke-width="1"/>
<text x="58.55" y="243.6" font-size="6.4" fill="#222" text-anchor="middle" textLength="3.13" lengthAdjust="spacingAndGlyphs">4</text>
<line x1="69.5" y1="232.3" x2="69.5" y2="234.5" stroke="#1a1a1a" stroke-width="1"/>
<text x="69.1" y="243.6" font-size="6.4" fill="#222" text-anchor="middle" textLength="3.13" lengthAdjust="spacingAndGlyphs">7</text>
<line x1="79.5" y1="232.3" x2="79.5" y2="234.5" stroke="#1a1a1a" stroke-width="1"/>
<text x="79.65" y="243.6" font-size="6.4" fill="#222" text-anchor="middle" textLength="6.26" lengthAdjust="spacingAndGlyphs">14</text>
<line x1="90.5" y1="232.3" x2="90.5" y2="234.5" stroke="#1a1a1a" stroke-width="1"/>
<text x="90.2" y="243.6" font-size="6.4" fill="#222" text-anchor="middle" textLength="6.26" lengthAdjust="spacingAndGlyphs">21</text>
<line x1="100.5" y1="232.3" x2="100.5" y2="234.5" stroke="#1a1a1a" stroke-width="1"/>
<text x="100.75" y="243.6" font-size="6.4" fill="#222" text-anchor="middle" textLength="6.26" lengthAdjust="spacingAndGlyphs">28</text>
<line x1="111.5" y1="232.3" x2="111.5" y2="234.5" stroke="#1a1a1a" stroke-width="1"/>
<text x="111.3" y="243.6" font-size="6.4" fill="#222" text-anchor="middle" textLength="6.26" lengthAdjust="spacingAndGlyphs">35</text>
<line x1="121.5" y1="232.3" x2="121.5" y2="234.5" stroke="#1a1a1a" stroke-width="1"/>
<text x="121.85" y="243.6" font-size="6.4" fill="#222" text-anchor="middle" textLength="6.26" lengthAdjust="spacingAndGlyphs">42</text>
<line x1="132.5" y1="232.3" x2="132.5" y2="234.5" stroke="#1a1a1a" stroke-width="1"/>
<text x="132.4" y="243.6" font-size="6.4" fill="#222" text-anchor="middle" textLength="6.26" lengthAdjust="spacingAndGlyphs">49</text>
<text x="54.8" y="255.6" font-size="8.6" fill="#222" textLength="73" lengthAdjust="spacingAndGlyphs">Days after CAR T injection</text>
<text x="0" y="0" font-size="8.2" fill="#222" textLength="50.9" lengthAdjust="spacingAndGlyphs" transform="translate(11.05 221.5) rotate(-90)">Bioluminescence</text>
<polyline points="48,228.3 58.55,221.5 69.1,218.8 79.65,213 90.2,213 100.75,210.3 111.3,209.2 121.85,218.8 132.4,223.6" fill="none" stroke="#45a845" stroke-width="1.0" stroke-linejoin="round"/>
<circle cx="48" cy="228.3" r="0.9" fill="#45a845"/>
<circle cx="58.55" cy="221.5" r="0.9" fill="#45a845"/>
<circle cx="69.1" cy="218.8" r="0.9" fill="#45a845"/>
<circle cx="79.65" cy="213" r="0.9" fill="#45a845"/>
<circle cx="90.2" cy="213" r="0.9" fill="#45a845"/>
<circle cx="100.75" cy="210.3" r="0.9" fill="#45a845"/>
<circle cx="111.3" cy="209.2" r="0.9" fill="#45a845"/>
<circle cx="121.85" cy="218.8" r="0.9" fill="#45a845"/>
<circle cx="132.4" cy="223.6" r="0.9" fill="#45a845"/>
<line x1="58.55" y1="215.6" x2="58.55" y2="223" stroke="#45a845" stroke-width="0.7"/>
<line x1="57.75" y1="215.6" x2="59.35" y2="215.6" stroke="#45a845" stroke-width="0.7"/>
<line x1="57.75" y1="223" x2="59.35" y2="223" stroke="#45a845" stroke-width="0.7"/>
<line x1="69.1" y1="216" x2="69.1" y2="221.5" stroke="#45a845" stroke-width="0.7"/>
<line x1="68.3" y1="216" x2="69.9" y2="216" stroke="#45a845" stroke-width="0.7"/>
<line x1="68.3" y1="221.5" x2="69.9" y2="221.5" stroke="#45a845" stroke-width="0.7"/>
<line x1="79.65" y1="210.3" x2="79.65" y2="215.6" stroke="#45a845" stroke-width="0.7"/>
<line x1="78.85" y1="210.3" x2="80.45" y2="210.3" stroke="#45a845" stroke-width="0.7"/>
<line x1="78.85" y1="215.6" x2="80.45" y2="215.6" stroke="#45a845" stroke-width="0.7"/>
<line x1="90.2" y1="210.3" x2="90.2" y2="215.6" stroke="#45a845" stroke-width="0.7"/>
<line x1="89.4" y1="210.3" x2="91" y2="210.3" stroke="#45a845" stroke-width="0.7"/>
<line x1="89.4" y1="215.6" x2="91" y2="215.6" stroke="#45a845" stroke-width="0.7"/>
<line x1="100.75" y1="201.8" x2="100.75" y2="217.7" stroke="#45a845" stroke-width="0.7"/>
<line x1="99.95" y1="201.8" x2="101.55" y2="201.8" stroke="#45a845" stroke-width="0.7"/>
<line x1="99.95" y1="217.7" x2="101.55" y2="217.7" stroke="#45a845" stroke-width="0.7"/>
<line x1="111.3" y1="200.8" x2="111.3" y2="216.6" stroke="#45a845" stroke-width="0.7"/>
<line x1="110.5" y1="200.8" x2="112.1" y2="200.8" stroke="#45a845" stroke-width="0.7"/>
<line x1="110.5" y1="216.6" x2="112.1" y2="216.6" stroke="#45a845" stroke-width="0.7"/>
<line x1="121.85" y1="214.5" x2="121.85" y2="223" stroke="#45a845" stroke-width="0.7"/>
<line x1="121.05" y1="214.5" x2="122.65" y2="214.5" stroke="#45a845" stroke-width="0.7"/>
<line x1="121.05" y1="223" x2="122.65" y2="223" stroke="#45a845" stroke-width="0.7"/>
<line x1="132.4" y1="220.9" x2="132.4" y2="226.2" stroke="#45a845" stroke-width="0.7"/>
<line x1="131.6" y1="220.9" x2="133.2" y2="220.9" stroke="#45a845" stroke-width="0.7"/>
<line x1="131.6" y1="226.2" x2="133.2" y2="226.2" stroke="#45a845" stroke-width="0.7"/>
<polyline points="48,228.3 58.55,221 69.1,214.5 79.65,201.8 90.2,192.3" fill="none" stroke="#e1257f" stroke-width="1.0" stroke-linejoin="round"/>
<circle cx="48" cy="228.3" r="0.9" fill="#e1257f"/>
<circle cx="58.55" cy="221" r="0.9" fill="#e1257f"/>
<circle cx="69.1" cy="214.5" r="0.9" fill="#e1257f"/>
<circle cx="79.65" cy="201.8" r="0.9" fill="#e1257f"/>
<circle cx="90.2" cy="192.3" r="0.9" fill="#e1257f"/>
<line x1="79.65" y1="198" x2="79.65" y2="205" stroke="#e1257f" stroke-width="0.7"/>
<line x1="78.85" y1="198" x2="80.45" y2="198" stroke="#e1257f" stroke-width="0.7"/>
<line x1="78.85" y1="205" x2="80.45" y2="205" stroke="#e1257f" stroke-width="0.7"/>
<line x1="90.2" y1="187.7" x2="90.2" y2="199.1" stroke="#e1257f" stroke-width="0.7"/>
<line x1="89.4" y1="187.7" x2="91" y2="187.7" stroke="#e1257f" stroke-width="0.7"/>
<line x1="89.4" y1="199.1" x2="91" y2="199.1" stroke="#e1257f" stroke-width="0.7"/>
<polyline points="48,228.3 58.55,220.9 69.1,217.7 79.65,206.7 90.2,210.3 100.75,190.2 111.3,193.4" fill="none" stroke="#1f4a78" stroke-width="1.0" stroke-linejoin="round"/>
<circle cx="48" cy="228.3" r="0.9" fill="#1f4a78"/>
<circle cx="58.55" cy="220.9" r="0.9" fill="#1f4a78"/>
<circle cx="69.1" cy="217.7" r="0.9" fill="#1f4a78"/>
<circle cx="79.65" cy="206.7" r="0.9" fill="#1f4a78"/>
<circle cx="90.2" cy="210.3" r="0.9" fill="#1f4a78"/>
<circle cx="100.75" cy="190.2" r="0.9" fill="#1f4a78"/>
<circle cx="111.3" cy="193.4" r="0.9" fill="#1f4a78"/>
<line x1="58.55" y1="215.6" x2="58.55" y2="223" stroke="#1f4a78" stroke-width="0.7"/>
<line x1="57.75" y1="215.6" x2="59.35" y2="215.6" stroke="#1f4a78" stroke-width="0.7"/>
<line x1="57.75" y1="223" x2="59.35" y2="223" stroke="#1f4a78" stroke-width="0.7"/>
<line x1="79.65" y1="204" x2="79.65" y2="210.3" stroke="#1f4a78" stroke-width="0.7"/>
<line x1="78.85" y1="204" x2="80.45" y2="204" stroke="#1f4a78" stroke-width="0.7"/>
<line x1="78.85" y1="210.3" x2="80.45" y2="210.3" stroke="#1f4a78" stroke-width="0.7"/>
<line x1="90.2" y1="205.4" x2="90.2" y2="214.5" stroke="#1f4a78" stroke-width="0.7"/>
<line x1="89.4" y1="205.4" x2="91" y2="205.4" stroke="#1f4a78" stroke-width="0.7"/>
<line x1="89.4" y1="214.5" x2="91" y2="214.5" stroke="#1f4a78" stroke-width="0.7"/>
<line x1="100.75" y1="176.4" x2="100.75" y2="203.9" stroke="#1f4a78" stroke-width="0.7"/>
<line x1="99.95" y1="176.4" x2="101.55" y2="176.4" stroke="#1f4a78" stroke-width="0.7"/>
<line x1="99.95" y1="203.9" x2="101.55" y2="203.9" stroke="#1f4a78" stroke-width="0.7"/>
<line x1="111.3" y1="183.8" x2="111.3" y2="201.8" stroke="#1f4a78" stroke-width="0.7"/>
<line x1="110.5" y1="183.8" x2="112.1" y2="183.8" stroke="#1f4a78" stroke-width="0.7"/>
<line x1="110.5" y1="201.8" x2="112.1" y2="201.8" stroke="#1f4a78" stroke-width="0.7"/>
<polyline points="136.5,189.5 138.5,189.5 138.5,218.5 136.5,218.5" fill="none" stroke="#1a1a1a" stroke-width="1" stroke-linejoin="round"/>
<circle cx="143.2" cy="204.6" r="0.85" fill="#333"/>
<line x1="185.5" y1="161" x2="185.5" y2="232.6" stroke="#1a1a1a" stroke-width="1"/>
<line x1="184.7" y1="232.5" x2="285.4" y2="232.5" stroke="#1a1a1a" stroke-width="1"/>
<line x1="182.7" y1="232.5" x2="185.2" y2="232.5" stroke="#1a1a1a" stroke-width="1"/>
<text x="179.2" y="234.4" font-size="6.4" fill="#222" text-anchor="end" textLength="3.13" lengthAdjust="spacingAndGlyphs">0</text>
<line x1="182.7" y1="210.5" x2="185.2" y2="210.5" stroke="#1a1a1a" stroke-width="1"/>
<text x="179.2" y="213.23" font-size="6.4" fill="#222" text-anchor="end" textLength="12.53" lengthAdjust="spacingAndGlyphs">2000</text>
<line x1="182.7" y1="189.5" x2="185.2" y2="189.5" stroke="#1a1a1a" stroke-width="1"/>
<text x="179.2" y="192.06" font-size="6.4" fill="#222" text-anchor="end" textLength="12.53" lengthAdjust="spacingAndGlyphs">4000</text>
<line x1="182.7" y1="168.5" x2="185.2" y2="168.5" stroke="#1a1a1a" stroke-width="1"/>
<text x="179.2" y="170.89" font-size="6.4" fill="#222" text-anchor="end" textLength="12.53" lengthAdjust="spacingAndGlyphs">6000</text>
<line x1="193.5" y1="232.1" x2="193.5" y2="234.3" stroke="#1a1a1a" stroke-width="1"/>
<text x="193.2" y="243.6" font-size="6.4" fill="#222" text-anchor="middle" textLength="6.42" lengthAdjust="spacingAndGlyphs">−2</text>
<line x1="204.5" y1="232.1" x2="204.5" y2="234.3" stroke="#1a1a1a" stroke-width="1"/>
<text x="204.71" y="243.6" font-size="6.4" fill="#222" text-anchor="middle" textLength="3.13" lengthAdjust="spacingAndGlyphs">7</text>
<line x1="216.5" y1="232.1" x2="216.5" y2="234.3" stroke="#1a1a1a" stroke-width="1"/>
<text x="216.22" y="243.6" font-size="6.4" fill="#222" text-anchor="middle" textLength="6.26" lengthAdjust="spacingAndGlyphs">14</text>
<line x1="227.5" y1="232.1" x2="227.5" y2="234.3" stroke="#1a1a1a" stroke-width="1"/>
<text x="227.73" y="243.6" font-size="6.4" fill="#222" text-anchor="middle" textLength="6.26" lengthAdjust="spacingAndGlyphs">21</text>
<line x1="239.5" y1="232.1" x2="239.5" y2="234.3" stroke="#1a1a1a" stroke-width="1"/>
<text x="239.24" y="243.6" font-size="6.4" fill="#222" text-anchor="middle" textLength="6.26" lengthAdjust="spacingAndGlyphs">28</text>
<line x1="250.5" y1="232.1" x2="250.5" y2="234.3" stroke="#1a1a1a" stroke-width="1"/>
<text x="250.75" y="243.6" font-size="6.4" fill="#222" text-anchor="middle" textLength="6.26" lengthAdjust="spacingAndGlyphs">35</text>
<line x1="262.5" y1="232.1" x2="262.5" y2="234.3" stroke="#1a1a1a" stroke-width="1"/>
<text x="262.26" y="243.6" font-size="6.4" fill="#222" text-anchor="middle" textLength="6.26" lengthAdjust="spacingAndGlyphs">42</text>
<line x1="273.5" y1="232.1" x2="273.5" y2="234.3" stroke="#1a1a1a" stroke-width="1"/>
<text x="273.77" y="243.6" font-size="6.4" fill="#222" text-anchor="middle" textLength="6.26" lengthAdjust="spacingAndGlyphs">49</text>
<text x="199.6" y="255.6" font-size="8.6" fill="#222" textLength="73" lengthAdjust="spacingAndGlyphs">Days after CAR T injection</text>
<text x="0" y="0" font-size="8.2" fill="#222" textLength="63.5" lengthAdjust="spacingAndGlyphs" transform="translate(161.05 228.3) rotate(-90)">Tumor volume(mm3)</text>
<polyline points="193.2,228.7 204.71,224.5 216.22,221.9 227.73,215.6 239.24,217.7 250.75,219.4 262.26,219.8 273.77,220.9" fill="none" stroke="#45a845" stroke-width="1.0" stroke-linejoin="round"/>
<circle cx="193.2" cy="228.7" r="0.9" fill="#45a845"/>
<circle cx="204.71" cy="224.5" r="0.9" fill="#45a845"/>
<circle cx="216.22" cy="221.9" r="0.9" fill="#45a845"/>
<circle cx="227.73" cy="215.6" r="0.9" fill="#45a845"/>
<circle cx="239.24" cy="217.7" r="0.9" fill="#45a845"/>
<circle cx="250.75" cy="219.4" r="0.9" fill="#45a845"/>
<circle cx="262.26" cy="219.8" r="0.9" fill="#45a845"/>
<circle cx="273.77" cy="220.9" r="0.9" fill="#45a845"/>
<line x1="216.22" y1="219" x2="216.22" y2="225" stroke="#45a845" stroke-width="0.7"/>
<line x1="215.42" y1="219" x2="217.02" y2="219" stroke="#45a845" stroke-width="0.7"/>
<line x1="215.42" y1="225" x2="217.02" y2="225" stroke="#45a845" stroke-width="0.7"/>
<line x1="227.73" y1="212.4" x2="227.73" y2="219.8" stroke="#45a845" stroke-width="0.7"/>
<line x1="226.93" y1="212.4" x2="228.53" y2="212.4" stroke="#45a845" stroke-width="0.7"/>
<line x1="226.93" y1="219.8" x2="228.53" y2="219.8" stroke="#45a845" stroke-width="0.7"/>
<line x1="239.24" y1="214.5" x2="239.24" y2="221" stroke="#45a845" stroke-width="0.7"/>
<line x1="238.44" y1="214.5" x2="240.04" y2="214.5" stroke="#45a845" stroke-width="0.7"/>
<line x1="238.44" y1="221" x2="240.04" y2="221" stroke="#45a845" stroke-width="0.7"/>
<line x1="250.75" y1="214.5" x2="250.75" y2="223.6" stroke="#45a845" stroke-width="0.7"/>
<line x1="249.95" y1="214.5" x2="251.55" y2="214.5" stroke="#45a845" stroke-width="0.7"/>
<line x1="249.95" y1="223.6" x2="251.55" y2="223.6" stroke="#45a845" stroke-width="0.7"/>
<line x1="262.26" y1="215.6" x2="262.26" y2="223.6" stroke="#45a845" stroke-width="0.7"/>
<line x1="261.46" y1="215.6" x2="263.06" y2="215.6" stroke="#45a845" stroke-width="0.7"/>
<line x1="261.46" y1="223.6" x2="263.06" y2="223.6" stroke="#45a845" stroke-width="0.7"/>
<line x1="273.77" y1="215.6" x2="273.77" y2="224.5" stroke="#45a845" stroke-width="0.7"/>
<line x1="272.97" y1="215.6" x2="274.57" y2="215.6" stroke="#45a845" stroke-width="0.7"/>
<line x1="272.97" y1="224.5" x2="274.57" y2="224.5" stroke="#45a845" stroke-width="0.7"/>
<polyline points="193.2,227.8 204.71,220.4 216.22,207.1 227.73,186" fill="none" stroke="#e1257f" stroke-width="1.0" stroke-linejoin="round"/>
<circle cx="193.2" cy="227.8" r="0.9" fill="#e1257f"/>
<circle cx="204.71" cy="220.4" r="0.9" fill="#e1257f"/>
<circle cx="216.22" cy="207.1" r="0.9" fill="#e1257f"/>
<circle cx="227.73" cy="186" r="0.9" fill="#e1257f"/>
<line x1="216.22" y1="203.9" x2="216.22" y2="211.4" stroke="#e1257f" stroke-width="0.7"/>
<line x1="215.42" y1="203.9" x2="217.02" y2="203.9" stroke="#e1257f" stroke-width="0.7"/>
<line x1="215.42" y1="211.4" x2="217.02" y2="211.4" stroke="#e1257f" stroke-width="0.7"/>
<line x1="227.73" y1="177.1" x2="227.73" y2="194.4" stroke="#e1257f" stroke-width="0.7"/>
<line x1="226.93" y1="177.1" x2="228.53" y2="177.1" stroke="#e1257f" stroke-width="0.7"/>
<line x1="226.93" y1="194.4" x2="228.53" y2="194.4" stroke="#e1257f" stroke-width="0.7"/>
<line x1="204.71" y1="218.5" x2="204.71" y2="222.5" stroke="#e1257f" stroke-width="0.7"/>
<line x1="203.91" y1="218.5" x2="205.51" y2="218.5" stroke="#e1257f" stroke-width="0.7"/>
<line x1="203.91" y1="222.5" x2="205.51" y2="222.5" stroke="#e1257f" stroke-width="0.7"/>
<polyline points="193.2,228.7 204.71,224 216.22,213 227.73,206 239.24,207.5 250.75,197" fill="none" stroke="#1f4a78" stroke-width="1.0" stroke-linejoin="round"/>
<circle cx="193.2" cy="228.7" r="0.9" fill="#1f4a78"/>
<circle cx="204.71" cy="224" r="0.9" fill="#1f4a78"/>
<circle cx="216.22" cy="213" r="0.9" fill="#1f4a78"/>
<circle cx="227.73" cy="206" r="0.9" fill="#1f4a78"/>
<circle cx="239.24" cy="207.5" r="0.9" fill="#1f4a78"/>
<circle cx="250.75" cy="197" r="0.9" fill="#1f4a78"/>
<line x1="216.22" y1="207.1" x2="216.22" y2="219.8" stroke="#1f4a78" stroke-width="0.7"/>
<line x1="215.42" y1="207.1" x2="217.02" y2="207.1" stroke="#1f4a78" stroke-width="0.7"/>
<line x1="215.42" y1="219.8" x2="217.02" y2="219.8" stroke="#1f4a78" stroke-width="0.7"/>
<line x1="227.73" y1="199.1" x2="227.73" y2="213.5" stroke="#1f4a78" stroke-width="0.7"/>
<line x1="226.93" y1="199.1" x2="228.53" y2="199.1" stroke="#1f4a78" stroke-width="0.7"/>
<line x1="226.93" y1="213.5" x2="228.53" y2="213.5" stroke="#1f4a78" stroke-width="0.7"/>
<line x1="239.24" y1="201.8" x2="239.24" y2="213.5" stroke="#1f4a78" stroke-width="0.7"/>
<line x1="238.44" y1="201.8" x2="240.04" y2="201.8" stroke="#1f4a78" stroke-width="0.7"/>
<line x1="238.44" y1="213.5" x2="240.04" y2="213.5" stroke="#1f4a78" stroke-width="0.7"/>
<line x1="250.75" y1="188.1" x2="250.75" y2="206.1" stroke="#1f4a78" stroke-width="0.7"/>
<line x1="249.95" y1="188.1" x2="251.55" y2="188.1" stroke="#1f4a78" stroke-width="0.7"/>
<line x1="249.95" y1="206.1" x2="251.55" y2="206.1" stroke="#1f4a78" stroke-width="0.7"/>
<polyline points="270.5,194.5 274.5,194.5 274.5,213.5 270.5,213.5" fill="none" stroke="#1a1a1a" stroke-width="1" stroke-linejoin="round"/>
<circle cx="277.6" cy="204.6" r="0.85" fill="#333"/>
<polyline points="278.5,178.5 281.5,178.5 281.5,213.5 278.5,213.5" fill="none" stroke="#1a1a1a" stroke-width="1" stroke-linejoin="round"/>
<circle cx="285.97" cy="194.9" r="0.85" fill="#333"/>
<circle cx="288.3" cy="194.9" r="0.85" fill="#333"/>
<circle cx="290.63" cy="194.9" r="0.85" fill="#333"/>
<line x1="329.5" y1="171" x2="329.5" y2="231.1" stroke="#1a1a1a" stroke-width="1"/>
<line x1="329" y1="230.5" x2="407.5" y2="230.5" stroke="#1a1a1a" stroke-width="1"/>
<line x1="327" y1="230.5" x2="329.5" y2="230.5" stroke="#1a1a1a" stroke-width="1"/>
<text x="325.2" y="232.9" font-size="6.4" fill="#222" text-anchor="end" textLength="3.13" lengthAdjust="spacingAndGlyphs">0</text>
<line x1="327" y1="219.5" x2="329.5" y2="219.5" stroke="#1a1a1a" stroke-width="1"/>
<text x="325.2" y="221.48" font-size="6.4" fill="#222" text-anchor="end" textLength="6.26" lengthAdjust="spacingAndGlyphs">20</text>
<line x1="327" y1="207.5" x2="329.5" y2="207.5" stroke="#1a1a1a" stroke-width="1"/>
<text x="325.2" y="210.06" font-size="6.4" fill="#222" text-anchor="end" textLength="6.26" lengthAdjust="spacingAndGlyphs">40</text>
<line x1="327" y1="196.5" x2="329.5" y2="196.5" stroke="#1a1a1a" stroke-width="1"/>
<text x="325.2" y="198.64" font-size="6.4" fill="#222" text-anchor="end" textLength="6.26" lengthAdjust="spacingAndGlyphs">60</text>
<line x1="327" y1="184.5" x2="329.5" y2="184.5" stroke="#1a1a1a" stroke-width="1"/>
<text x="325.2" y="187.22" font-size="6.4" fill="#222" text-anchor="end" textLength="6.26" lengthAdjust="spacingAndGlyphs">80</text>
<line x1="327" y1="173.5" x2="329.5" y2="173.5" stroke="#1a1a1a" stroke-width="1"/>
<text x="325.2" y="175.8" font-size="6.4" fill="#222" text-anchor="end" textLength="9.4" lengthAdjust="spacingAndGlyphs">100</text>
<line x1="330.5" y1="230.6" x2="330.5" y2="232.8" stroke="#1a1a1a" stroke-width="1"/>
<text x="330" y="241.8" font-size="6.4" fill="#222" text-anchor="middle" textLength="3.13" lengthAdjust="spacingAndGlyphs">0</text>
<line x1="343.5" y1="230.6" x2="343.5" y2="232.8" stroke="#1a1a1a" stroke-width="1"/>
<text x="343.08" y="241.8" font-size="6.4" fill="#222" text-anchor="middle" textLength="3.13" lengthAdjust="spacingAndGlyphs">7</text>
<line x1="356.5" y1="230.6" x2="356.5" y2="232.8" stroke="#1a1a1a" stroke-width="1"/>
<text x="356.16" y="241.8" font-size="6.4" fill="#222" text-anchor="middle" textLength="6.26" lengthAdjust="spacingAndGlyphs">14</text>
<line x1="369.5" y1="230.6" x2="369.5" y2="232.8" stroke="#1a1a1a" stroke-width="1"/>
<text x="369.24" y="241.8" font-size="6.4" fill="#222" text-anchor="middle" textLength="6.26" lengthAdjust="spacingAndGlyphs">21</text>
<line x1="382.5" y1="230.6" x2="382.5" y2="232.8" stroke="#1a1a1a" stroke-width="1"/>
<text x="382.32" y="241.8" font-size="6.4" fill="#222" text-anchor="middle" textLength="6.26" lengthAdjust="spacingAndGlyphs">28</text>
<line x1="395.5" y1="230.6" x2="395.5" y2="232.8" stroke="#1a1a1a" stroke-width="1"/>
<text x="395.4" y="241.8" font-size="6.4" fill="#222" text-anchor="middle" textLength="6.26" lengthAdjust="spacingAndGlyphs">35</text>
<text x="331.9" y="255.6" font-size="8.6" fill="#222" textLength="72.7" lengthAdjust="spacingAndGlyphs">Days after CAR T injection</text>
<text x="0" y="0" font-size="8.2" fill="#222" textLength="63.4" lengthAdjust="spacingAndGlyphs" transform="translate(308.05 231.4) rotate(-90)">Probability of survival</text>
<polyline points="330,173.5 356,173.5 356,201.7 369,201.7 369,230.6" fill="none" stroke="#e1257f" stroke-width="1" stroke-linejoin="round"/>
<polyline points="330,173.5 356,173.5 356,192.3 382.1,192.3 382.1,221.2 395.4,221.2 395.4,230.6" fill="none" stroke="#1f4a78" stroke-width="1" stroke-linejoin="round"/>
<polyline points="330,173.5 369,173.5 369,182.7 382.1,182.7 382.1,192.3 405.6,192.3" fill="none" stroke="#45a845" stroke-width="1" stroke-linejoin="round"/>
<polyline points="330,173.5 356,173.5" fill="none" stroke="#1f4a78" stroke-width="1" stroke-linejoin="round"/>
<polyline points="406.5,192.5 408.5,192.5 408.5,228.5 406.5,228.5" fill="none" stroke="#1a1a1a" stroke-width="1" stroke-linejoin="round"/>
<circle cx="412.9" cy="211" r="0.85" fill="#333"/>
<line x1="454.5" y1="170" x2="454.5" y2="232.7" stroke="#1a1a1a" stroke-width="1"/>
<line x1="454.4" y1="232.5" x2="508" y2="232.5" stroke="#1a1a1a" stroke-width="1"/>
<line x1="452.4" y1="232.5" x2="454.9" y2="232.5" stroke="#1a1a1a" stroke-width="1"/>
<text x="450.2" y="234.5" font-size="6.4" fill="#222" text-anchor="end" textLength="3.13" lengthAdjust="spacingAndGlyphs">0</text>
<line x1="452.4" y1="217.5" x2="454.9" y2="217.5" stroke="#1a1a1a" stroke-width="1"/>
<text x="450.2" y="219.33" font-size="6.4" fill="#222" text-anchor="end" textLength="9.4" lengthAdjust="spacingAndGlyphs">100</text>
<line x1="452.4" y1="201.5" x2="454.9" y2="201.5" stroke="#1a1a1a" stroke-width="1"/>
<text x="450.2" y="204.16" font-size="6.4" fill="#222" text-anchor="end" textLength="9.4" lengthAdjust="spacingAndGlyphs">200</text>
<line x1="452.4" y1="186.5" x2="454.9" y2="186.5" stroke="#1a1a1a" stroke-width="1"/>
<text x="450.2" y="188.99" font-size="6.4" fill="#222" text-anchor="end" textLength="9.4" lengthAdjust="spacingAndGlyphs">300</text>
<line x1="452.4" y1="171.5" x2="454.9" y2="171.5" stroke="#1a1a1a" stroke-width="1"/>
<text x="450.2" y="173.82" font-size="6.4" fill="#222" text-anchor="end" textLength="9.4" lengthAdjust="spacingAndGlyphs">400</text>
<text x="0" y="0" font-size="8.2" fill="#222" textLength="43.8" lengthAdjust="spacingAndGlyphs" transform="translate(434.15 222.3) rotate(-90)">CD3+/ul blood</text>
<rect x="461.2" y="210.8" width="10.8" height="21.4" fill="#a7d296"/>
<rect x="477.3" y="226.9" width="11.1" height="5.3" fill="#8094bf"/>
<rect x="494.2" y="228" width="10.8" height="4.2" fill="#f190c1"/>
<line x1="466.5" y1="203.4" x2="466.5" y2="218.8" stroke="#2f9a3a" stroke-width="0.8"/>
<line x1="465.25" y1="203.4" x2="467.75" y2="203.4" stroke="#2f9a3a" stroke-width="0.8"/>
<line x1="465.25" y1="218.8" x2="467.75" y2="218.8" stroke="#2f9a3a" stroke-width="0.8"/>
<line x1="483" y1="222.3" x2="483" y2="231" stroke="#1f4a78" stroke-width="0.8"/>
<line x1="481.75" y1="222.3" x2="484.25" y2="222.3" stroke="#1f4a78" stroke-width="0.8"/>
<line x1="481.75" y1="231" x2="484.25" y2="231" stroke="#1f4a78" stroke-width="0.8"/>
<line x1="499.7" y1="226" x2="499.7" y2="230" stroke="#e1257f" stroke-width="0.8"/>
<line x1="498.45" y1="226" x2="500.95" y2="226" stroke="#e1257f" stroke-width="0.8"/>
<line x1="498.45" y1="230" x2="500.95" y2="230" stroke="#e1257f" stroke-width="0.8"/>
<circle cx="466.5" cy="184.7" r="1.1" fill="#2f9a3a"/>
<circle cx="466.5" cy="196.9" r="1.1" fill="#2f9a3a"/>
<circle cx="467" cy="216.5" r="1.1" fill="#2f9a3a"/>
<circle cx="463.5" cy="229.2" r="1.1" fill="#2f9a3a"/>
<circle cx="469.2" cy="228.8" r="1.1" fill="#2f9a3a"/>
<circle cx="483" cy="206.8" r="1.1" fill="#1f4a78"/>
<circle cx="479.8" cy="228" r="1.1" fill="#1f4a78"/>
<circle cx="483.5" cy="229" r="1.1" fill="#1f4a78"/>
<circle cx="486.5" cy="228.5" r="1.1" fill="#1f4a78"/>
<circle cx="499.7" cy="222.3" r="1" fill="#e1257f"/>
<circle cx="496.5" cy="229" r="1" fill="#e1257f"/>
<circle cx="499.5" cy="228.5" r="1" fill="#e1257f"/>
<circle cx="502.5" cy="229" r="1" fill="#e1257f"/>
<polyline points="466.5,179.5 466.5,176.5 499.5,176.5 499.5,218.5" fill="none" stroke="#1a1a1a" stroke-width="1.05" stroke-linejoin="round"/>
<circle cx="482.6" cy="173.2" r="0.85" fill="#333"/>
<text x="43" y="276.1" font-size="10.8" fill="#000" font-weight="bold">C</text>
<line x1="161.5" y1="276.2" x2="168" y2="276.2" stroke="#45a845" stroke-width="0.9"/>
<circle cx="164.75" cy="276.2" r="1.2" fill="#45a845"/>
<text x="170.1" y="278.4" font-size="6.2" fill="#222" textLength="57.1" lengthAdjust="spacingAndGlyphs">CD200R-CD28 BCMA</text>
<line x1="236" y1="276.2" x2="241.2" y2="276.2" stroke="#1d3b6b" stroke-width="0.9"/>
<circle cx="238.6" cy="276.2" r="1.2" fill="#1d3b6b"/>
<text x="244.6" y="278.4" font-size="6.2" fill="#222" textLength="16.9" lengthAdjust="spacingAndGlyphs">BCMA</text>
<line x1="270.4" y1="276.2" x2="275.4" y2="276.2" stroke="#f3a12c" stroke-width="0.9"/>
<circle cx="272.9" cy="276.2" r="1.2" fill="#f3a12c"/>
<text x="278.4" y="278.4" font-size="6.2" fill="#222" textLength="49.8" lengthAdjust="spacingAndGlyphs">CD200RDN BCMA</text>
<line x1="333.6" y1="276.2" x2="338.6" y2="276.2" stroke="#111" stroke-width="0.9"/>
<circle cx="336.1" cy="276.2" r="1.2" fill="#111"/>
<text x="341.9" y="278.4" font-size="6.2" fill="#222" textLength="48.3" lengthAdjust="spacingAndGlyphs">CD200RKO BCMA</text>
<line x1="393.8" y1="276.2" x2="398.5" y2="276.2" stroke="#e1257f" stroke-width="0.9"/>
<circle cx="396.15" cy="276.2" r="1.2" fill="#e1257f"/>
<text x="401.5" y="278.4" font-size="6.2" fill="#222" textLength="11.9" lengthAdjust="spacingAndGlyphs">UTD</text>
<line x1="69.5" y1="294.5" x2="69.5" y2="365.4" stroke="#1a1a1a" stroke-width="1"/>
<line x1="68.9" y1="364.5" x2="168.8" y2="364.5" stroke="#1a1a1a" stroke-width="1"/>
<line x1="66.9" y1="364.5" x2="69.4" y2="364.5" stroke="#1a1a1a" stroke-width="1"/>
<text x="55.83" y="367.49" font-size="5.8" fill="#222"><tspan textLength="5.93" lengthAdjust="spacingAndGlyphs">10</tspan><tspan font-size="3.48" dy="-2.32">6</tspan></text>
<line x1="66.9" y1="355.5" x2="69.4" y2="355.5" stroke="#1a1a1a" stroke-width="1"/>
<text x="55.83" y="357.65" font-size="5.8" fill="#222"><tspan textLength="5.93" lengthAdjust="spacingAndGlyphs">10</tspan><tspan font-size="3.48" dy="-2.32">7</tspan></text>
<line x1="66.9" y1="345.5" x2="69.4" y2="345.5" stroke="#1a1a1a" stroke-width="1"/>
<text x="55.83" y="347.81" font-size="5.8" fill="#222"><tspan textLength="5.93" lengthAdjust="spacingAndGlyphs">10</tspan><tspan font-size="3.48" dy="-2.32">8</tspan></text>
<line x1="66.9" y1="335.5" x2="69.4" y2="335.5" stroke="#1a1a1a" stroke-width="1"/>
<text x="55.83" y="337.97" font-size="5.8" fill="#222"><tspan textLength="5.93" lengthAdjust="spacingAndGlyphs">10</tspan><tspan font-size="3.48" dy="-2.32">9</tspan></text>
<line x1="66.9" y1="325.5" x2="69.4" y2="325.5" stroke="#1a1a1a" stroke-width="1"/>
<text x="53.9" y="328.13" font-size="5.8" fill="#222"><tspan textLength="5.93" lengthAdjust="spacingAndGlyphs">10</tspan><tspan font-size="3.48" dy="-2.32">10</tspan></text>
<line x1="66.9" y1="315.5" x2="69.4" y2="315.5" stroke="#1a1a1a" stroke-width="1"/>
<text x="53.9" y="318.29" font-size="5.8" fill="#222"><tspan textLength="5.93" lengthAdjust="spacingAndGlyphs">10</tspan><tspan font-size="3.48" dy="-2.32">11</tspan></text>
<line x1="66.9" y1="305.5" x2="69.4" y2="305.5" stroke="#1a1a1a" stroke-width="1"/>
<text x="53.9" y="308.45" font-size="5.8" fill="#222"><tspan textLength="5.93" lengthAdjust="spacingAndGlyphs">10</tspan><tspan font-size="3.48" dy="-2.32">12</tspan></text>
<line x1="66.9" y1="296.5" x2="69.4" y2="296.5" stroke="#1a1a1a" stroke-width="1"/>
<text x="53.9" y="298.61" font-size="5.8" fill="#222"><tspan textLength="5.93" lengthAdjust="spacingAndGlyphs">10</tspan><tspan font-size="3.48" dy="-2.32">13</tspan></text>
<line x1="74.5" y1="364.9" x2="74.5" y2="367.1" stroke="#1a1a1a" stroke-width="1"/>
<text x="74.6" y="375.7" font-size="6.4" fill="#222" text-anchor="middle" textLength="5.84" lengthAdjust="spacingAndGlyphs">−1</text>
<line x1="82.5" y1="364.9" x2="82.5" y2="367.1" stroke="#1a1a1a" stroke-width="1"/>
<text x="82.93" y="375.7" font-size="6.4" fill="#222" text-anchor="middle" textLength="2.85" lengthAdjust="spacingAndGlyphs">6</text>
<line x1="91.5" y1="364.9" x2="91.5" y2="367.1" stroke="#1a1a1a" stroke-width="1"/>
<text x="91.26" y="375.7" font-size="6.4" fill="#222" text-anchor="middle" textLength="5.7" lengthAdjust="spacingAndGlyphs">13</text>
<line x1="99.5" y1="364.9" x2="99.5" y2="367.1" stroke="#1a1a1a" stroke-width="1"/>
<text x="99.59" y="375.7" font-size="6.4" fill="#222" text-anchor="middle" textLength="5.7" lengthAdjust="spacingAndGlyphs">20</text>
<line x1="107.5" y1="364.9" x2="107.5" y2="367.1" stroke="#1a1a1a" stroke-width="1"/>
<text x="107.92" y="375.7" font-size="6.4" fill="#222" text-anchor="middle" textLength="5.7" lengthAdjust="spacingAndGlyphs">28</text>
<line x1="116.5" y1="364.9" x2="116.5" y2="367.1" stroke="#1a1a1a" stroke-width="1"/>
<text x="116.25" y="375.7" font-size="6.4" fill="#222" text-anchor="middle" textLength="5.7" lengthAdjust="spacingAndGlyphs">34</text>
<line x1="124.5" y1="364.9" x2="124.5" y2="367.1" stroke="#1a1a1a" stroke-width="1"/>
<text x="124.58" y="375.7" font-size="6.4" fill="#222" text-anchor="middle" textLength="5.7" lengthAdjust="spacingAndGlyphs">41</text>
<line x1="132.5" y1="364.9" x2="132.5" y2="367.1" stroke="#1a1a1a" stroke-width="1"/>
<text x="132.91" y="375.7" font-size="6.4" fill="#222" text-anchor="middle" textLength="5.7" lengthAdjust="spacingAndGlyphs">49</text>
<line x1="141.5" y1="364.9" x2="141.5" y2="367.1" stroke="#1a1a1a" stroke-width="1"/>
<text x="141.24" y="375.7" font-size="6.4" fill="#222" text-anchor="middle" textLength="5.7" lengthAdjust="spacingAndGlyphs">56</text>
<line x1="149.5" y1="364.9" x2="149.5" y2="367.1" stroke="#1a1a1a" stroke-width="1"/>
<text x="149.57" y="375.7" font-size="6.4" fill="#222" text-anchor="middle" textLength="5.7" lengthAdjust="spacingAndGlyphs">62</text>
<line x1="157.5" y1="364.9" x2="157.5" y2="367.1" stroke="#1a1a1a" stroke-width="1"/>
<text x="157.9" y="375.7" font-size="6.4" fill="#222" text-anchor="middle" textLength="5.7" lengthAdjust="spacingAndGlyphs">69</text>
<line x1="166.5" y1="364.9" x2="166.5" y2="367.1" stroke="#1a1a1a" stroke-width="1"/>
<text x="166.23" y="375.7" font-size="6.4" fill="#222" text-anchor="middle" textLength="5.7" lengthAdjust="spacingAndGlyphs">76</text>
<text x="0" y="0" font-size="8.2" fill="#222" textLength="50.9" lengthAdjust="spacingAndGlyphs" transform="translate(46.75 354.2) rotate(-90)">Bioluminescence</text>
<polyline points="74.6,352.3 82.93,348.5 91.26,349.4 99.59,357.7 107.92,356.2 116.25,346.5 124.58,336.9 132.91,348.1 141.24,344.2 149.57,340.8 157.9,331.2 166.23,332.1" fill="none" stroke="#45a845" stroke-width="1.05" stroke-linejoin="round"/>
<circle cx="74.6" cy="352.3" r="1.3" fill="#45a845"/>
<circle cx="82.93" cy="348.5" r="1.3" fill="#45a845"/>
<circle cx="91.26" cy="349.4" r="1.3" fill="#45a845"/>
<circle cx="99.59" cy="357.7" r="1.3" fill="#45a845"/>
<circle cx="107.92" cy="356.2" r="1.3" fill="#45a845"/>
<circle cx="116.25" cy="346.5" r="1.3" fill="#45a845"/>
<circle cx="124.58" cy="336.9" r="1.3" fill="#45a845"/>
<circle cx="132.91" cy="348.1" r="1.3" fill="#45a845"/>
<circle cx="141.24" cy="344.2" r="1.3" fill="#45a845"/>
<circle cx="149.57" cy="340.8" r="1.3" fill="#45a845"/>
<circle cx="157.9" cy="331.2" r="1.3" fill="#45a845"/>
<circle cx="166.23" cy="332.1" r="1.3" fill="#45a845"/>
<line x1="157.9" y1="329.5" x2="157.9" y2="337" stroke="#45a845" stroke-width="0.7"/>
<line x1="157.1" y1="329.5" x2="158.7" y2="329.5" stroke="#45a845" stroke-width="0.7"/>
<line x1="157.1" y1="337" x2="158.7" y2="337" stroke="#45a845" stroke-width="0.7"/>
<line x1="166.23" y1="330.5" x2="166.23" y2="335.5" stroke="#45a845" stroke-width="0.7"/>
<line x1="165.43" y1="330.5" x2="167.03" y2="330.5" stroke="#45a845" stroke-width="0.7"/>
<line x1="165.43" y1="335.5" x2="167.03" y2="335.5" stroke="#45a845" stroke-width="0.7"/>
<line x1="116.25" y1="344.5" x2="116.25" y2="348.5" stroke="#45a845" stroke-width="0.7"/>
<line x1="115.45" y1="344.5" x2="117.05" y2="344.5" stroke="#45a845" stroke-width="0.7"/>
<line x1="115.45" y1="348.5" x2="117.05" y2="348.5" stroke="#45a845" stroke-width="0.7"/>
<line x1="124.58" y1="334.5" x2="124.58" y2="339" stroke="#45a845" stroke-width="0.7"/>
<line x1="123.78" y1="334.5" x2="125.38" y2="334.5" stroke="#45a845" stroke-width="0.7"/>
<line x1="123.78" y1="339" x2="125.38" y2="339" stroke="#45a845" stroke-width="0.7"/>
<polyline points="74.6,351 82.93,350 91.26,352.7 99.59,343.5 107.92,332 116.25,326.2 124.58,320.6 132.91,313.8 141.24,313.8 149.57,311 157.9,310 166.23,312" fill="none" stroke="#f3a12c" stroke-width="1.05" stroke-linejoin="round"/>
<circle cx="74.6" cy="351" r="1.3" fill="#f3a12c"/>
<circle cx="82.93" cy="350" r="1.3" fill="#f3a12c"/>
<circle cx="91.26" cy="352.7" r="1.3" fill="#f3a12c"/>
<circle cx="99.59" cy="343.5" r="1.3" fill="#f3a12c"/>
<circle cx="107.92" cy="332" r="1.3" fill="#f3a12c"/>
<circle cx="116.25" cy="326.2" r="1.3" fill="#f3a12c"/>
<circle cx="124.58" cy="320.6" r="1.3" fill="#f3a12c"/>
<circle cx="132.91" cy="313.8" r="1.3" fill="#f3a12c"/>
<circle cx="141.24" cy="313.8" r="1.3" fill="#f3a12c"/>
<circle cx="149.57" cy="311" r="1.3" fill="#f3a12c"/>
<circle cx="157.9" cy="310" r="1.3" fill="#f3a12c"/>
<circle cx="166.23" cy="312" r="1.3" fill="#f3a12c"/>
<line x1="166.23" y1="308" x2="166.23" y2="316" stroke="#f3a12c" stroke-width="0.7"/>
<line x1="165.43" y1="308" x2="167.03" y2="308" stroke="#f3a12c" stroke-width="0.7"/>
<line x1="165.43" y1="316" x2="167.03" y2="316" stroke="#f3a12c" stroke-width="0.7"/>
<polyline points="74.6,349.4 82.93,344.6 91.26,341.2 99.59,340.8 107.92,331.2 116.25,325.8 124.58,319.6 132.91,317.3 141.24,314.8 149.57,312 157.9,308" fill="none" stroke="#e1257f" stroke-width="1.05" stroke-linejoin="round"/>
<circle cx="74.6" cy="349.4" r="1.3" fill="#e1257f"/>
<circle cx="82.93" cy="344.6" r="1.3" fill="#e1257f"/>
<circle cx="91.26" cy="341.2" r="1.3" fill="#e1257f"/>
<circle cx="99.59" cy="340.8" r="1.3" fill="#e1257f"/>
<circle cx="107.92" cy="331.2" r="1.3" fill="#e1257f"/>
<circle cx="116.25" cy="325.8" r="1.3" fill="#e1257f"/>
<circle cx="124.58" cy="319.6" r="1.3" fill="#e1257f"/>
<circle cx="132.91" cy="317.3" r="1.3" fill="#e1257f"/>
<circle cx="141.24" cy="314.8" r="1.3" fill="#e1257f"/>
<circle cx="149.57" cy="312" r="1.3" fill="#e1257f"/>
<circle cx="157.9" cy="308" r="1.3" fill="#e1257f"/>
<line x1="149.57" y1="310" x2="149.57" y2="320.5" stroke="#e1257f" stroke-width="0.7"/>
<line x1="148.77" y1="310" x2="150.37" y2="310" stroke="#e1257f" stroke-width="0.7"/>
<line x1="148.77" y1="320.5" x2="150.37" y2="320.5" stroke="#e1257f" stroke-width="0.7"/>
<line x1="157.9" y1="303.3" x2="157.9" y2="317.7" stroke="#e1257f" stroke-width="0.7"/>
<line x1="157.1" y1="303.3" x2="158.7" y2="303.3" stroke="#e1257f" stroke-width="0.7"/>
<line x1="157.1" y1="317.7" x2="158.7" y2="317.7" stroke="#e1257f" stroke-width="0.7"/>
<polyline points="74.6,352.5 82.93,350.5 91.26,350.5 99.59,343 107.92,331 116.25,325 124.58,317.5 132.91,312.5 141.24,311 149.57,310 157.9,308.5 166.23,307.5" fill="none" stroke="#1b2a44" stroke-width="1.05" stroke-linejoin="round"/>
<circle cx="74.6" cy="352.5" r="1.3" fill="#1b2a44"/>
<circle cx="82.93" cy="350.5" r="1.3" fill="#1b2a44"/>
<circle cx="91.26" cy="350.5" r="1.3" fill="#1b2a44"/>
<circle cx="99.59" cy="343" r="1.3" fill="#1b2a44"/>
<circle cx="107.92" cy="331" r="1.3" fill="#1b2a44"/>
<circle cx="116.25" cy="325" r="1.3" fill="#1b2a44"/>
<circle cx="124.58" cy="317.5" r="1.3" fill="#1b2a44"/>
<circle cx="132.91" cy="312.5" r="1.3" fill="#1b2a44"/>
<circle cx="141.24" cy="311" r="1.3" fill="#1b2a44"/>
<circle cx="149.57" cy="310" r="1.3" fill="#1b2a44"/>
<circle cx="157.9" cy="308.5" r="1.3" fill="#1b2a44"/>
<circle cx="166.23" cy="307.5" r="1.3" fill="#1b2a44"/>
<polyline points="74.6,352.3 82.93,350 91.26,350 99.59,342.3 107.92,330.8 116.25,324.4 124.58,316.7 132.91,311.9 141.24,310 149.57,309 157.9,307.7 166.23,306.5" fill="none" stroke="#2c5f9c" stroke-width="1.05" stroke-linejoin="round"/>
<circle cx="74.6" cy="352.3" r="1.3" fill="#2c5f9c"/>
<circle cx="82.93" cy="350" r="1.3" fill="#2c5f9c"/>
<circle cx="91.26" cy="350" r="1.3" fill="#2c5f9c"/>
<circle cx="99.59" cy="342.3" r="1.3" fill="#2c5f9c"/>
<circle cx="107.92" cy="330.8" r="1.3" fill="#2c5f9c"/>
<circle cx="116.25" cy="324.4" r="1.3" fill="#2c5f9c"/>
<circle cx="124.58" cy="316.7" r="1.3" fill="#2c5f9c"/>
<circle cx="132.91" cy="311.9" r="1.3" fill="#2c5f9c"/>
<circle cx="141.24" cy="310" r="1.3" fill="#2c5f9c"/>
<circle cx="149.57" cy="309" r="1.3" fill="#2c5f9c"/>
<circle cx="157.9" cy="307.7" r="1.3" fill="#2c5f9c"/>
<circle cx="166.23" cy="306.5" r="1.3" fill="#2c5f9c"/>
<line x1="166.23" y1="303.3" x2="166.23" y2="319.6" stroke="#2c5f9c" stroke-width="0.7"/>
<line x1="165.43" y1="303.3" x2="167.03" y2="303.3" stroke="#2c5f9c" stroke-width="0.7"/>
<line x1="165.43" y1="319.6" x2="167.03" y2="319.6" stroke="#2c5f9c" stroke-width="0.7"/>
<line x1="157.9" y1="305" x2="157.9" y2="311" stroke="#2c5f9c" stroke-width="0.7"/>
<line x1="157.1" y1="305" x2="158.7" y2="305" stroke="#2c5f9c" stroke-width="0.7"/>
<line x1="157.1" y1="311" x2="158.7" y2="311" stroke="#2c5f9c" stroke-width="0.7"/>
<polyline points="172.5,306.5 175.5,306.5 175.5,332.5 172.5,332.5" fill="none" stroke="#1a1a1a" stroke-width="1" stroke-linejoin="round"/>
<circle cx="178.15" cy="318.1" r="0.85" fill="#333"/>
<circle cx="180.65" cy="318.1" r="0.85" fill="#333"/>
<circle cx="183.15" cy="318.1" r="0.85" fill="#333"/>
<circle cx="185.65" cy="318.1" r="0.85" fill="#333"/>
<line x1="220.5" y1="294.6" x2="220.5" y2="366.7" stroke="#1a1a1a" stroke-width="1"/>
<line x1="219.7" y1="366.5" x2="319.6" y2="366.5" stroke="#1a1a1a" stroke-width="1"/>
<line x1="217.7" y1="357.5" x2="220.2" y2="357.5" stroke="#1a1a1a" stroke-width="1"/>
<text x="213.8" y="359.8" font-size="6.4" fill="#222" text-anchor="end" textLength="6.26" lengthAdjust="spacingAndGlyphs">60</text>
<line x1="217.7" y1="340.5" x2="220.2" y2="340.5" stroke="#1a1a1a" stroke-width="1"/>
<text x="213.8" y="342.7" font-size="6.4" fill="#222" text-anchor="end" textLength="6.26" lengthAdjust="spacingAndGlyphs">80</text>
<line x1="217.7" y1="323.5" x2="220.2" y2="323.5" stroke="#1a1a1a" stroke-width="1"/>
<text x="213.8" y="325.6" font-size="6.4" fill="#222" text-anchor="end" textLength="9.4" lengthAdjust="spacingAndGlyphs">100</text>
<line x1="217.7" y1="306.5" x2="220.2" y2="306.5" stroke="#1a1a1a" stroke-width="1"/>
<text x="213.8" y="308.5" font-size="6.4" fill="#222" text-anchor="end" textLength="9.4" lengthAdjust="spacingAndGlyphs">120</text>
<line x1="225.5" y1="366.2" x2="225.5" y2="368.4" stroke="#1a1a1a" stroke-width="1"/>
<text x="225.8" y="375.7" font-size="6.4" fill="#222" text-anchor="middle" textLength="5.84" lengthAdjust="spacingAndGlyphs">−1</text>
<line x1="234.5" y1="366.2" x2="234.5" y2="368.4" stroke="#1a1a1a" stroke-width="1"/>
<text x="234.12" y="375.7" font-size="6.4" fill="#222" text-anchor="middle" textLength="2.85" lengthAdjust="spacingAndGlyphs">6</text>
<line x1="242.5" y1="366.2" x2="242.5" y2="368.4" stroke="#1a1a1a" stroke-width="1"/>
<text x="242.44" y="375.7" font-size="6.4" fill="#222" text-anchor="middle" textLength="5.7" lengthAdjust="spacingAndGlyphs">13</text>
<line x1="250.5" y1="366.2" x2="250.5" y2="368.4" stroke="#1a1a1a" stroke-width="1"/>
<text x="250.76" y="375.7" font-size="6.4" fill="#222" text-anchor="middle" textLength="5.7" lengthAdjust="spacingAndGlyphs">20</text>
<line x1="259.5" y1="366.2" x2="259.5" y2="368.4" stroke="#1a1a1a" stroke-width="1"/>
<text x="259.08" y="375.7" font-size="6.4" fill="#222" text-anchor="middle" textLength="5.7" lengthAdjust="spacingAndGlyphs">28</text>
<line x1="267.5" y1="366.2" x2="267.5" y2="368.4" stroke="#1a1a1a" stroke-width="1"/>
<text x="267.4" y="375.7" font-size="6.4" fill="#222" text-anchor="middle" textLength="5.7" lengthAdjust="spacingAndGlyphs">34</text>
<line x1="275.5" y1="366.2" x2="275.5" y2="368.4" stroke="#1a1a1a" stroke-width="1"/>
<text x="275.72" y="375.7" font-size="6.4" fill="#222" text-anchor="middle" textLength="5.7" lengthAdjust="spacingAndGlyphs">41</text>
<line x1="284.5" y1="366.2" x2="284.5" y2="368.4" stroke="#1a1a1a" stroke-width="1"/>
<text x="284.04" y="375.7" font-size="6.4" fill="#222" text-anchor="middle" textLength="5.7" lengthAdjust="spacingAndGlyphs">49</text>
<line x1="292.5" y1="366.2" x2="292.5" y2="368.4" stroke="#1a1a1a" stroke-width="1"/>
<text x="292.36" y="375.7" font-size="6.4" fill="#222" text-anchor="middle" textLength="5.7" lengthAdjust="spacingAndGlyphs">56</text>
<line x1="300.5" y1="366.2" x2="300.5" y2="368.4" stroke="#1a1a1a" stroke-width="1"/>
<text x="300.68" y="375.7" font-size="6.4" fill="#222" text-anchor="middle" textLength="5.7" lengthAdjust="spacingAndGlyphs">62</text>
<line x1="308.5" y1="366.2" x2="308.5" y2="368.4" stroke="#1a1a1a" stroke-width="1"/>
<text x="309" y="375.7" font-size="6.4" fill="#222" text-anchor="middle" textLength="5.7" lengthAdjust="spacingAndGlyphs">69</text>
<line x1="317.5" y1="366.2" x2="317.5" y2="368.4" stroke="#1a1a1a" stroke-width="1"/>
<text x="317.32" y="375.7" font-size="6.4" fill="#222" text-anchor="middle" textLength="5.7" lengthAdjust="spacingAndGlyphs">76</text>
<text x="0" y="0" font-size="8.2" fill="#222" textLength="71.2" lengthAdjust="spacingAndGlyphs" transform="translate(199.15 365.8) rotate(-90)">Body weight change (%)</text>
<polyline points="225.8,323.1 234.12,324 242.44,318 250.76,316.5 259.08,319.6 267.4,322.5 275.72,324.4 284.04,323.5 292.36,323.5 300.68,321.5 309,322.9 317.32,321.2" fill="none" stroke="#45a845" stroke-width="1.15" stroke-linejoin="round"/>
<circle cx="225.8" cy="323.1" r="1.3" fill="#45a845"/>
<circle cx="234.12" cy="324" r="1.3" fill="#45a845"/>
<circle cx="242.44" cy="318" r="1.3" fill="#45a845"/>
<circle cx="250.76" cy="316.5" r="1.3" fill="#45a845"/>
<circle cx="259.08" cy="319.6" r="1.3" fill="#45a845"/>
<circle cx="267.4" cy="322.5" r="1.3" fill="#45a845"/>
<circle cx="275.72" cy="324.4" r="1.3" fill="#45a845"/>
<circle cx="284.04" cy="323.5" r="1.3" fill="#45a845"/>
<circle cx="292.36" cy="323.5" r="1.3" fill="#45a845"/>
<circle cx="300.68" cy="321.5" r="1.3" fill="#45a845"/>
<circle cx="309" cy="322.9" r="1.3" fill="#45a845"/>
<circle cx="317.32" cy="321.2" r="1.3" fill="#45a845"/>
<line x1="300.68" y1="318" x2="300.68" y2="325" stroke="#45a845" stroke-width="0.7"/>
<line x1="299.88" y1="318" x2="301.48" y2="318" stroke="#45a845" stroke-width="0.7"/>
<line x1="299.88" y1="325" x2="301.48" y2="325" stroke="#45a845" stroke-width="0.7"/>
<line x1="309" y1="319" x2="309" y2="326" stroke="#45a845" stroke-width="0.7"/>
<line x1="308.2" y1="319" x2="309.8" y2="319" stroke="#45a845" stroke-width="0.7"/>
<line x1="308.2" y1="326" x2="309.8" y2="326" stroke="#45a845" stroke-width="0.7"/>
<line x1="317.32" y1="318" x2="317.32" y2="325" stroke="#45a845" stroke-width="0.7"/>
<line x1="316.52" y1="318" x2="318.12" y2="318" stroke="#45a845" stroke-width="0.7"/>
<line x1="316.52" y1="325" x2="318.12" y2="325" stroke="#45a845" stroke-width="0.7"/>
<line x1="267.4" y1="319.5" x2="267.4" y2="325.5" stroke="#45a845" stroke-width="0.7"/>
<line x1="266.6" y1="319.5" x2="268.2" y2="319.5" stroke="#45a845" stroke-width="0.7"/>
<line x1="266.6" y1="325.5" x2="268.2" y2="325.5" stroke="#45a845" stroke-width="0.7"/>
<polyline points="225.8,323.1 234.12,320 242.44,318 250.76,317 259.08,315 267.4,314 275.72,313.5 284.04,315.8 292.36,325.4 300.68,333.1 309,339.8 317.32,346.2" fill="none" stroke="#f3a12c" stroke-width="1.15" stroke-linejoin="round"/>
<circle cx="225.8" cy="323.1" r="1.3" fill="#f3a12c"/>
<circle cx="234.12" cy="320" r="1.3" fill="#f3a12c"/>
<circle cx="242.44" cy="318" r="1.3" fill="#f3a12c"/>
<circle cx="250.76" cy="317" r="1.3" fill="#f3a12c"/>
<circle cx="259.08" cy="315" r="1.3" fill="#f3a12c"/>
<circle cx="267.4" cy="314" r="1.3" fill="#f3a12c"/>
<circle cx="275.72" cy="313.5" r="1.3" fill="#f3a12c"/>
<circle cx="284.04" cy="315.8" r="1.3" fill="#f3a12c"/>
<circle cx="292.36" cy="325.4" r="1.3" fill="#f3a12c"/>
<circle cx="300.68" cy="333.1" r="1.3" fill="#f3a12c"/>
<circle cx="309" cy="339.8" r="1.3" fill="#f3a12c"/>
<circle cx="317.32" cy="346.2" r="1.3" fill="#f3a12c"/>
<line x1="284.04" y1="312" x2="284.04" y2="319.5" stroke="#f3a12c" stroke-width="0.7"/>
<line x1="283.24" y1="312" x2="284.84" y2="312" stroke="#f3a12c" stroke-width="0.7"/>
<line x1="283.24" y1="319.5" x2="284.84" y2="319.5" stroke="#f3a12c" stroke-width="0.7"/>
<polyline points="225.8,323.1 234.12,318 242.44,318 250.76,319 259.08,318 267.4,317.3 275.72,321.2 284.04,329.2 292.36,335 300.68,347.5 309,340.8" fill="none" stroke="#e1257f" stroke-width="1.15" stroke-linejoin="round"/>
<circle cx="225.8" cy="323.1" r="1.3" fill="#e1257f"/>
<circle cx="234.12" cy="318" r="1.3" fill="#e1257f"/>
<circle cx="242.44" cy="318" r="1.3" fill="#e1257f"/>
<circle cx="250.76" cy="319" r="1.3" fill="#e1257f"/>
<circle cx="259.08" cy="318" r="1.3" fill="#e1257f"/>
<circle cx="267.4" cy="317.3" r="1.3" fill="#e1257f"/>
<circle cx="275.72" cy="321.2" r="1.3" fill="#e1257f"/>
<circle cx="284.04" cy="329.2" r="1.3" fill="#e1257f"/>
<circle cx="292.36" cy="335" r="1.3" fill="#e1257f"/>
<circle cx="300.68" cy="347.5" r="1.3" fill="#e1257f"/>
<circle cx="309" cy="340.8" r="1.3" fill="#e1257f"/>
<line x1="284.04" y1="319.6" x2="284.04" y2="340.8" stroke="#e1257f" stroke-width="0.7"/>
<line x1="283.24" y1="319.6" x2="284.84" y2="319.6" stroke="#e1257f" stroke-width="0.7"/>
<line x1="283.24" y1="340.8" x2="284.84" y2="340.8" stroke="#e1257f" stroke-width="0.7"/>
<line x1="292.36" y1="324.4" x2="292.36" y2="346.5" stroke="#e1257f" stroke-width="0.7"/>
<line x1="291.56" y1="324.4" x2="293.16" y2="324.4" stroke="#e1257f" stroke-width="0.7"/>
<line x1="291.56" y1="346.5" x2="293.16" y2="346.5" stroke="#e1257f" stroke-width="0.7"/>
<line x1="300.68" y1="340.8" x2="300.68" y2="358" stroke="#e1257f" stroke-width="0.7"/>
<line x1="299.88" y1="340.8" x2="301.48" y2="340.8" stroke="#e1257f" stroke-width="0.7"/>
<line x1="299.88" y1="358" x2="301.48" y2="358" stroke="#e1257f" stroke-width="0.7"/>
<line x1="309" y1="331.2" x2="309" y2="358" stroke="#e1257f" stroke-width="0.7"/>
<line x1="308.2" y1="331.2" x2="309.8" y2="331.2" stroke="#e1257f" stroke-width="0.7"/>
<line x1="308.2" y1="358" x2="309.8" y2="358" stroke="#e1257f" stroke-width="0.7"/>
<polyline points="225.8,323.1 234.12,320 242.44,318 250.76,316 259.08,313 267.4,312 275.72,314 284.04,322 292.36,328.5 300.68,331 309,342.3 317.32,322.5" fill="none" stroke="#1b2a44" stroke-width="1.15" stroke-linejoin="round"/>
<circle cx="225.8" cy="323.1" r="1.3" fill="#1b2a44"/>
<circle cx="234.12" cy="320" r="1.3" fill="#1b2a44"/>
<circle cx="242.44" cy="318" r="1.3" fill="#1b2a44"/>
<circle cx="250.76" cy="316" r="1.3" fill="#1b2a44"/>
<circle cx="259.08" cy="313" r="1.3" fill="#1b2a44"/>
<circle cx="267.4" cy="312" r="1.3" fill="#1b2a44"/>
<circle cx="275.72" cy="314" r="1.3" fill="#1b2a44"/>
<circle cx="284.04" cy="322" r="1.3" fill="#1b2a44"/>
<circle cx="292.36" cy="328.5" r="1.3" fill="#1b2a44"/>
<circle cx="300.68" cy="331" r="1.3" fill="#1b2a44"/>
<circle cx="309" cy="342.3" r="1.3" fill="#1b2a44"/>
<circle cx="317.32" cy="322.5" r="1.3" fill="#1b2a44"/>
<line x1="309" y1="330" x2="309" y2="345" stroke="#1b2a44" stroke-width="0.7"/>
<line x1="308.2" y1="330" x2="309.8" y2="330" stroke="#1b2a44" stroke-width="0.7"/>
<line x1="308.2" y1="345" x2="309.8" y2="345" stroke="#1b2a44" stroke-width="0.7"/>
<line x1="292.36" y1="323" x2="292.36" y2="334" stroke="#1b2a44" stroke-width="0.7"/>
<line x1="291.56" y1="323" x2="293.16" y2="323" stroke="#1b2a44" stroke-width="0.7"/>
<line x1="291.56" y1="334" x2="293.16" y2="334" stroke="#1b2a44" stroke-width="0.7"/>
<polyline points="225.8,323.1 234.12,320 242.44,318 250.76,315.8 259.08,312.9 267.4,311.5 275.72,313.5 284.04,320.6 292.36,327.3 300.68,329.6 309,336 317.32,322.1" fill="none" stroke="#2c5f9c" stroke-width="1.15" stroke-linejoin="round"/>
<circle cx="225.8" cy="323.1" r="1.3" fill="#2c5f9c"/>
<circle cx="234.12" cy="320" r="1.3" fill="#2c5f9c"/>
<circle cx="242.44" cy="318" r="1.3" fill="#2c5f9c"/>
<circle cx="250.76" cy="315.8" r="1.3" fill="#2c5f9c"/>
<circle cx="259.08" cy="312.9" r="1.3" fill="#2c5f9c"/>
<circle cx="267.4" cy="311.5" r="1.3" fill="#2c5f9c"/>
<circle cx="275.72" cy="313.5" r="1.3" fill="#2c5f9c"/>
<circle cx="284.04" cy="320.6" r="1.3" fill="#2c5f9c"/>
<circle cx="292.36" cy="327.3" r="1.3" fill="#2c5f9c"/>
<circle cx="300.68" cy="329.6" r="1.3" fill="#2c5f9c"/>
<circle cx="309" cy="336" r="1.3" fill="#2c5f9c"/>
<circle cx="317.32" cy="322.1" r="1.3" fill="#2c5f9c"/>
<line x1="317.32" y1="310" x2="317.32" y2="334" stroke="#2c5f9c" stroke-width="0.7"/>
<line x1="316.52" y1="310" x2="318.12" y2="310" stroke="#2c5f9c" stroke-width="0.7"/>
<line x1="316.52" y1="334" x2="318.12" y2="334" stroke="#2c5f9c" stroke-width="0.7"/>
<line x1="267.4" y1="308.5" x2="267.4" y2="314.5" stroke="#2c5f9c" stroke-width="0.7"/>
<line x1="266.6" y1="308.5" x2="268.2" y2="308.5" stroke="#2c5f9c" stroke-width="0.7"/>
<line x1="266.6" y1="314.5" x2="268.2" y2="314.5" stroke="#2c5f9c" stroke-width="0.7"/>
<line x1="364.5" y1="300" x2="364.5" y2="364.3" stroke="#1a1a1a" stroke-width="1"/>
<line x1="364.5" y1="363.5" x2="472.5" y2="363.5" stroke="#1a1a1a" stroke-width="1"/>
<line x1="362.5" y1="363.5" x2="365" y2="363.5" stroke="#1a1a1a" stroke-width="1"/>
<text x="360.5" y="366.1" font-size="6.4" fill="#222" text-anchor="end" textLength="3.13" lengthAdjust="spacingAndGlyphs">0</text>
<line x1="362.5" y1="351.5" x2="365" y2="351.5" stroke="#1a1a1a" stroke-width="1"/>
<text x="360.5" y="353.68" font-size="6.4" fill="#222" text-anchor="end" textLength="6.26" lengthAdjust="spacingAndGlyphs">20</text>
<line x1="362.5" y1="338.5" x2="365" y2="338.5" stroke="#1a1a1a" stroke-width="1"/>
<text x="360.5" y="341.26" font-size="6.4" fill="#222" text-anchor="end" textLength="6.26" lengthAdjust="spacingAndGlyphs">40</text>
<line x1="362.5" y1="326.5" x2="365" y2="326.5" stroke="#1a1a1a" stroke-width="1"/>
<text x="360.5" y="328.84" font-size="6.4" fill="#222" text-anchor="end" textLength="6.26" lengthAdjust="spacingAndGlyphs">60</text>
<line x1="362.5" y1="314.5" x2="365" y2="314.5" stroke="#1a1a1a" stroke-width="1"/>
<text x="360.5" y="316.42" font-size="6.4" fill="#222" text-anchor="end" textLength="6.26" lengthAdjust="spacingAndGlyphs">80</text>
<line x1="362.5" y1="301.5" x2="365" y2="301.5" stroke="#1a1a1a" stroke-width="1"/>
<text x="360.5" y="304" font-size="6.4" fill="#222" text-anchor="end" textLength="9.4" lengthAdjust="spacingAndGlyphs">100</text>
<line x1="365.5" y1="363.8" x2="365.5" y2="366" stroke="#1a1a1a" stroke-width="1"/>
<text x="365.3" y="375" font-size="6.4" fill="#222" text-anchor="middle" textLength="3.13" lengthAdjust="spacingAndGlyphs">0</text>
<line x1="388.5" y1="363.8" x2="388.5" y2="366" stroke="#1a1a1a" stroke-width="1"/>
<text x="388.23" y="375" font-size="6.4" fill="#222" text-anchor="middle" textLength="6.26" lengthAdjust="spacingAndGlyphs">20</text>
<line x1="411.5" y1="363.8" x2="411.5" y2="366" stroke="#1a1a1a" stroke-width="1"/>
<text x="411.16" y="375" font-size="6.4" fill="#222" text-anchor="middle" textLength="6.26" lengthAdjust="spacingAndGlyphs">40</text>
<line x1="434.5" y1="363.8" x2="434.5" y2="366" stroke="#1a1a1a" stroke-width="1"/>
<text x="434.09" y="375" font-size="6.4" fill="#222" text-anchor="middle" textLength="6.26" lengthAdjust="spacingAndGlyphs">60</text>
<line x1="457.5" y1="363.8" x2="457.5" y2="366" stroke="#1a1a1a" stroke-width="1"/>
<text x="457.02" y="375" font-size="6.4" fill="#222" text-anchor="middle" textLength="6.26" lengthAdjust="spacingAndGlyphs">80</text>
<text x="395.8" y="387.3" font-size="8.6" fill="#222" textLength="46.1" lengthAdjust="spacingAndGlyphs">T cells in spleen</text>
<text x="0" y="0" font-size="8.2" fill="#222" textLength="63.5" lengthAdjust="spacingAndGlyphs" transform="translate(344.85 362.9) rotate(-90)">Probability of survival</text>
<polyline points="365.3,301.7 412.5,301.7 412.5,314.2 436,314.2 436,326 444.6,326 444.6,352.3 451.3,352.3 451.3,363.8" fill="none" stroke="#e1257f" stroke-width="1" stroke-linejoin="round"/>
<polyline points="365.3,301.7 439.8,301.7 439.8,311.3 469.6,311.3" fill="none" stroke="#45a845" stroke-width="1" stroke-linejoin="round"/>
<line x1="469.6" y1="309.5" x2="469.6" y2="313" stroke="#45a845" stroke-width="0.8"/>
<polyline points="365.3,301.7 426.3,301.7 426.3,311.9 439.8,311.9 439.8,322.1 451.3,322.1 451.3,353.3 468.7,353.3 468.7,363.8" fill="none" stroke="#2c5f9c" stroke-width="1" stroke-linejoin="round"/>
<polyline points="429.2,301.7 429.2,321.5 437.9,321.5 437.9,342.7 451.3,342.7 451.3,353.3 461.9,353.3 461.9,363.8" fill="none" stroke="#f3a12c" stroke-width="1" stroke-linejoin="round"/>
<polyline points="426.3,311.9 429.4,311.9 429.4,332.1 434.2,332.1 434.2,342.7 444.6,342.7 444.6,352.3" fill="none" stroke="#3a3550" stroke-width="1" stroke-linejoin="round"/>
<line x1="437" y1="324" x2="437" y2="340" stroke="#e03030" stroke-width="0.9"/>
<polyline points="472.5,307.5 477.5,307.5 477.5,347.5 472.5,347.5" fill="none" stroke="#1a1a1a" stroke-width="1" stroke-linejoin="round"/>
<circle cx="481" cy="326.3" r="0.85" fill="#333"/>
<text x="71.9" y="407.9" font-size="10.8" fill="#000" font-weight="bold">D</text>
<line x1="110.5" y1="436" x2="110.5" y2="526.8" stroke="#1a1a1a" stroke-width="1"/>
<line x1="109.9" y1="526.5" x2="286.8" y2="526.5" stroke="#1a1a1a" stroke-width="1"/>
<line x1="107.6" y1="526.5" x2="110.4" y2="526.5" stroke="#1a1a1a" stroke-width="1"/>
<text x="105.2" y="528.6" font-size="6.4" fill="#222" text-anchor="end" textLength="3.13" lengthAdjust="spacingAndGlyphs">0</text>
<line x1="108.8" y1="517.5" x2="110.4" y2="517.5" stroke="#1a1a1a" stroke-width="1"/>
<line x1="107.6" y1="508.5" x2="110.4" y2="508.5" stroke="#1a1a1a" stroke-width="1"/>
<text x="105.2" y="510.89" font-size="6.4" fill="#222" text-anchor="end" textLength="6.26" lengthAdjust="spacingAndGlyphs">20</text>
<line x1="108.8" y1="499.5" x2="110.4" y2="499.5" stroke="#1a1a1a" stroke-width="1"/>
<line x1="107.6" y1="490.5" x2="110.4" y2="490.5" stroke="#1a1a1a" stroke-width="1"/>
<text x="105.2" y="493.18" font-size="6.4" fill="#222" text-anchor="end" textLength="6.26" lengthAdjust="spacingAndGlyphs">40</text>
<line x1="108.8" y1="482.5" x2="110.4" y2="482.5" stroke="#1a1a1a" stroke-width="1"/>
<line x1="107.6" y1="473.5" x2="110.4" y2="473.5" stroke="#1a1a1a" stroke-width="1"/>
<text x="105.2" y="475.47" font-size="6.4" fill="#222" text-anchor="end" textLength="6.26" lengthAdjust="spacingAndGlyphs">60</text>
<line x1="108.8" y1="464.5" x2="110.4" y2="464.5" stroke="#1a1a1a" stroke-width="1"/>
<line x1="107.6" y1="455.5" x2="110.4" y2="455.5" stroke="#1a1a1a" stroke-width="1"/>
<text x="105.2" y="457.76" font-size="6.4" fill="#222" text-anchor="end" textLength="6.26" lengthAdjust="spacingAndGlyphs">80</text>
<line x1="108.8" y1="446.5" x2="110.4" y2="446.5" stroke="#1a1a1a" stroke-width="1"/>
<line x1="107.6" y1="437.5" x2="110.4" y2="437.5" stroke="#1a1a1a" stroke-width="1"/>
<text x="105.2" y="440.05" font-size="6.4" fill="#222" text-anchor="end" textLength="9.4" lengthAdjust="spacingAndGlyphs">100</text>
<line x1="138.5" y1="526.3" x2="138.5" y2="528.8" stroke="#1a1a1a" stroke-width="1"/>
<line x1="198.5" y1="526.3" x2="198.5" y2="528.8" stroke="#1a1a1a" stroke-width="1"/>
<line x1="257.5" y1="526.3" x2="257.5" y2="528.8" stroke="#1a1a1a" stroke-width="1"/>
<text x="107.9" y="537.6" font-size="6.4" fill="#222" textLength="61.5" lengthAdjust="spacingAndGlyphs">CD200R-CD28 BCMA</text>
<text x="189" y="537.6" font-size="6.4" fill="#222" textLength="19.1" lengthAdjust="spacingAndGlyphs">BCMA</text>
<text x="232.6" y="537.6" font-size="6.4" fill="#222" textLength="52.5" lengthAdjust="spacingAndGlyphs">CD200RDN BCMA</text>
<text x="0" y="0" font-size="8.2" fill="#222" textLength="55.5" lengthAdjust="spacingAndGlyphs" transform="translate(89.85 508.2) rotate(-90)">% of CD45+ T cell</text>
<rect x="115.6" y="525.41" width="7.7" height="0.89" fill="#6d7487"/>
<circle cx="117.45" cy="525.41" r="1.4" fill="#1d3b6b"/>
<circle cx="119.45" cy="525.41" r="1.4" fill="#1d3b6b"/>
<circle cx="121.45" cy="525.41" r="1.4" fill="#1d3b6b"/>
<circle cx="118.45" cy="525.41" r="1.4" fill="#1d3b6b"/>
<rect x="128.1" y="516.12" width="8.2" height="10.18" fill="#a7d296"/>
<rect x="128.7" y="510.63" width="3" height="3" fill="#3aa33a"/>
<rect x="130.7" y="512.4" width="3" height="3" fill="#3aa33a"/>
<rect x="132.7" y="514.17" width="3" height="3" fill="#3aa33a"/>
<rect x="129.7" y="515.94" width="3" height="3" fill="#3aa33a"/>
<rect x="131.7" y="517.72" width="3" height="3" fill="#3aa33a"/>
<rect x="128.7" y="513.29" width="3" height="3" fill="#3aa33a"/>
<rect x="141.2" y="459.89" width="7.6" height="66.41" fill="#f8bf86"/>
<polygon points="141.3,459.6 144.7,459.6 143,456.64" fill="#f19a2a"/>
<polygon points="143.3,460.48 146.7,460.48 145,457.52" fill="#f19a2a"/>
<polygon points="145.3,461.37 148.7,461.37 147,458.41" fill="#f19a2a"/>
<polygon points="142.3,462.25 145.7,462.25 144,459.29" fill="#f19a2a"/>
<polygon points="144.3,460.48 147.7,460.48 146,457.52" fill="#f19a2a"/>
<rect x="153.5" y="516.12" width="8.2" height="10.18" fill="#8094bf"/>
<polygon points="153.9,511.54 157.3,511.54 155.6,514.5" fill="#1d3b6b"/>
<polygon points="155.9,512.42 159.3,512.42 157.6,515.38" fill="#1d3b6b"/>
<polygon points="157.9,513.31 161.3,513.31 159.6,516.27" fill="#1d3b6b"/>
<polygon points="154.9,515.97 158.3,515.97 156.6,518.92" fill="#1d3b6b"/>
<polygon points="156.9,517.74 160.3,517.74 158.6,520.7" fill="#1d3b6b"/>
<rect x="175.2" y="522.76" width="8.5" height="3.54" fill="#6d7487"/>
<circle cx="177.45" cy="520.99" r="1.4" fill="#1d3b6b"/>
<circle cx="179.45" cy="521.87" r="1.4" fill="#1d3b6b"/>
<circle cx="181.45" cy="522.76" r="1.4" fill="#1d3b6b"/>
<circle cx="178.45" cy="523.64" r="1.4" fill="#1d3b6b"/>
<circle cx="180.45" cy="521.87" r="1.4" fill="#1d3b6b"/>
<rect x="187.8" y="513.46" width="8.7" height="12.84" fill="#a7d296"/>
<rect x="188.65" y="507.09" width="3" height="3" fill="#3aa33a"/>
<rect x="190.65" y="509.75" width="3" height="3" fill="#3aa33a"/>
<rect x="192.65" y="511.52" width="3" height="3" fill="#3aa33a"/>
<rect x="189.65" y="514.17" width="3" height="3" fill="#3aa33a"/>
<rect x="191.65" y="516.83" width="3" height="3" fill="#3aa33a"/>
<rect x="188.65" y="519.49" width="3" height="3" fill="#3aa33a"/>
<rect x="201.2" y="489.99" width="8.1" height="36.31" fill="#f8bf86"/>
<polygon points="201.55,489.7 204.95,489.7 203.25,486.74" fill="#f19a2a"/>
<polygon points="203.55,490.59 206.95,490.59 205.25,487.63" fill="#f19a2a"/>
<polygon points="205.55,491.47 208.95,491.47 207.25,488.52" fill="#f19a2a"/>
<polygon points="202.55,492.36 205.95,492.36 204.25,489.4" fill="#f19a2a"/>
<polygon points="204.55,491.47 207.95,491.47 206.25,488.52" fill="#f19a2a"/>
<rect x="213.8" y="490.88" width="8.5" height="35.42" fill="#8094bf"/>
<polygon points="214.35,478.77 217.75,478.77 216.05,481.73" fill="#1d3b6b"/>
<polygon points="216.35,485.86 219.75,485.86 218.05,488.82" fill="#1d3b6b"/>
<polygon points="218.35,487.63 221.75,487.63 220.05,490.59" fill="#1d3b6b"/>
<polygon points="215.35,489.4 218.75,489.4 217.05,492.36" fill="#1d3b6b"/>
<polygon points="217.35,491.17 220.75,491.17 219.05,494.13" fill="#1d3b6b"/>
<polygon points="214.35,492.94 217.75,492.94 216.05,495.9" fill="#1d3b6b"/>
<rect x="235.1" y="524.53" width="8.2" height="1.77" fill="#6d7487"/>
<circle cx="237.2" cy="523.64" r="1.4" fill="#1d3b6b"/>
<circle cx="239.2" cy="524.53" r="1.4" fill="#1d3b6b"/>
<circle cx="241.2" cy="524.53" r="1.4" fill="#1d3b6b"/>
<circle cx="238.2" cy="525.41" r="1.4" fill="#1d3b6b"/>
<circle cx="240.2" cy="524.53" r="1.4" fill="#1d3b6b"/>
<rect x="247.9" y="509.48" width="8.1" height="16.82" fill="#a7d296"/>
<rect x="248.45" y="503.55" width="3" height="3" fill="#3aa33a"/>
<rect x="250.45" y="506.2" width="3" height="3" fill="#3aa33a"/>
<rect x="252.45" y="507.98" width="3" height="3" fill="#3aa33a"/>
<rect x="249.45" y="509.75" width="3" height="3" fill="#3aa33a"/>
<rect x="251.45" y="511.52" width="3" height="3" fill="#3aa33a"/>
<rect x="248.45" y="513.29" width="3" height="3" fill="#3aa33a"/>
<rect x="252.45" y="515.06" width="3" height="3" fill="#3aa33a"/>
<rect x="260.4" y="477.6" width="9.2" height="48.7" fill="#f8bf86"/>
<polygon points="261.3,467.56 264.7,467.56 263,464.61" fill="#f19a2a"/>
<polygon points="263.3,471.11 266.7,471.11 265,468.15" fill="#f19a2a"/>
<polygon points="265.3,476.42 268.7,476.42 267,473.46" fill="#f19a2a"/>
<polygon points="262.3,478.19 265.7,478.19 264,475.23" fill="#f19a2a"/>
<polygon points="264.3,479.96 267.7,479.96 266,477" fill="#f19a2a"/>
<polygon points="261.3,481.73 264.7,481.73 263,478.77" fill="#f19a2a"/>
<polygon points="265.3,483.5 268.7,483.5 267,480.55" fill="#f19a2a"/>
<polygon points="263.3,486.16 266.7,486.16 265,483.2" fill="#f19a2a"/>
<rect x="273" y="502.39" width="8.8" height="23.91" fill="#8094bf"/>
<polygon points="273.7,492.94 277.1,492.94 275.4,495.9" fill="#1d3b6b"/>
<polygon points="275.7,493.83 279.1,493.83 277.4,496.79" fill="#1d3b6b"/>
<polygon points="277.7,498.26 281.1,498.26 279.4,501.21" fill="#1d3b6b"/>
<polygon points="274.7,500.91 278.1,500.91 276.4,503.87" fill="#1d3b6b"/>
<polygon points="276.7,502.68 280.1,502.68 278.4,505.64" fill="#1d3b6b"/>
<polygon points="273.7,505.34 277.1,505.34 275.4,508.3" fill="#1d3b6b"/>
<polygon points="277.7,515.97 281.1,515.97 279.4,518.92" fill="#1d3b6b"/>
<polygon points="286.8,438.52 290.2,438.52 288.5,441.48" fill="#1d3b6b"/>
<polygon points="286.8,453.98 290.2,453.98 288.5,451.02" fill="#f19a2a"/>
<rect x="287.1" y="461.6" width="2.8" height="2.8" fill="#3aa33a"/>
<circle cx="288.5" cy="474.5" r="1.5" fill="#1d3b6b"/>
<text x="293.4" y="440.3" font-size="5.2" fill="#222">T</text>
<text x="297" y="442.9" font-size="3.9" fill="#222" textLength="11.8" lengthAdjust="spacingAndGlyphs">EMRA</text>
<text x="293.4" y="452.8" font-size="5.2" fill="#222">T</text>
<text x="297" y="455.4" font-size="3.9" fill="#222" textLength="5.9" lengthAdjust="spacingAndGlyphs">EM</text>
<text x="293.4" y="463.3" font-size="5.2" fill="#222">T</text>
<text x="297" y="465.9" font-size="3.9" fill="#222" textLength="6.7" lengthAdjust="spacingAndGlyphs">CM</text>
<text x="293.4" y="474.8" font-size="5.2" fill="#222">T</text>
<text x="297" y="477.4" font-size="3.9" fill="#222" textLength="2.9" lengthAdjust="spacingAndGlyphs">N</text>
<text x="323.5" y="407.9" font-size="10.8" fill="#000" font-weight="bold">E</text>
<line x1="350.5" y1="449.5" x2="350.5" y2="528.7" stroke="#1a1a1a" stroke-width="1"/>
<line x1="349.5" y1="528.5" x2="448.6" y2="528.5" stroke="#1a1a1a" stroke-width="1"/>
<line x1="347.5" y1="528.5" x2="350" y2="528.5" stroke="#1a1a1a" stroke-width="1"/>
<text x="336.53" y="530.79" font-size="5.8" fill="#222"><tspan textLength="5.93" lengthAdjust="spacingAndGlyphs">10</tspan><tspan font-size="3.48" dy="-2.32">0</tspan></text>
<line x1="347.5" y1="517.5" x2="350" y2="517.5" stroke="#1a1a1a" stroke-width="1"/>
<text x="336.53" y="519.83" font-size="5.8" fill="#222"><tspan textLength="5.93" lengthAdjust="spacingAndGlyphs">10</tspan><tspan font-size="3.48" dy="-2.32">1</tspan></text>
<line x1="347.5" y1="506.5" x2="350" y2="506.5" stroke="#1a1a1a" stroke-width="1"/>
<text x="336.53" y="508.87" font-size="5.8" fill="#222"><tspan textLength="5.93" lengthAdjust="spacingAndGlyphs">10</tspan><tspan font-size="3.48" dy="-2.32">2</tspan></text>
<line x1="347.5" y1="495.5" x2="350" y2="495.5" stroke="#1a1a1a" stroke-width="1"/>
<text x="336.53" y="497.91" font-size="5.8" fill="#222"><tspan textLength="5.93" lengthAdjust="spacingAndGlyphs">10</tspan><tspan font-size="3.48" dy="-2.32">3</tspan></text>
<line x1="347.5" y1="484.5" x2="350" y2="484.5" stroke="#1a1a1a" stroke-width="1"/>
<text x="336.53" y="486.95" font-size="5.8" fill="#222"><tspan textLength="5.93" lengthAdjust="spacingAndGlyphs">10</tspan><tspan font-size="3.48" dy="-2.32">4</tspan></text>
<line x1="347.5" y1="473.5" x2="350" y2="473.5" stroke="#1a1a1a" stroke-width="1"/>
<text x="336.53" y="475.99" font-size="5.8" fill="#222"><tspan textLength="5.93" lengthAdjust="spacingAndGlyphs">10</tspan><tspan font-size="3.48" dy="-2.32">5</tspan></text>
<line x1="347.5" y1="462.5" x2="350" y2="462.5" stroke="#1a1a1a" stroke-width="1"/>
<text x="336.53" y="465.03" font-size="5.8" fill="#222"><tspan textLength="5.93" lengthAdjust="spacingAndGlyphs">10</tspan><tspan font-size="3.48" dy="-2.32">6</tspan></text>
<line x1="347.5" y1="451.5" x2="350" y2="451.5" stroke="#1a1a1a" stroke-width="1"/>
<text x="336.53" y="454.07" font-size="5.8" fill="#222"><tspan textLength="5.93" lengthAdjust="spacingAndGlyphs">10</tspan><tspan font-size="3.48" dy="-2.32">7</tspan></text>
<text x="0" y="0" font-size="8.2" fill="#222" textLength="37.5" lengthAdjust="spacingAndGlyphs" transform="translate(331.55 508) rotate(-90)">CD45+ T cell</text>
<rect x="356.5" y="456.3" width="11.6" height="71.9" fill="#a7d296"/>
<line x1="362.5" y1="528.2" x2="362.5" y2="530.7" stroke="#1a1a1a" stroke-width="1"/>
<rect x="374.3" y="467.9" width="11.8" height="60.3" fill="#8094bf"/>
<line x1="380.5" y1="528.2" x2="380.5" y2="530.7" stroke="#1a1a1a" stroke-width="1"/>
<rect x="392.3" y="460.8" width="11.5" height="67.4" fill="#f8bf86"/>
<line x1="398.5" y1="528.2" x2="398.5" y2="530.7" stroke="#1a1a1a" stroke-width="1"/>
<rect x="409.6" y="488.5" width="12" height="39.7" fill="#fbd98b"/>
<line x1="415.5" y1="528.2" x2="415.5" y2="530.7" stroke="#1a1a1a" stroke-width="1"/>
<rect x="428.1" y="497.7" width="11.5" height="30.5" fill="#f190c1"/>
<line x1="433.5" y1="528.2" x2="433.5" y2="530.7" stroke="#1a1a1a" stroke-width="1"/>
<line x1="362.3" y1="451.5" x2="362.3" y2="459" stroke="#2f9a3a" stroke-width="0.9"/>
<line x1="361.05" y1="451.5" x2="363.55" y2="451.5" stroke="#2f9a3a" stroke-width="0.9"/>
<line x1="361.05" y1="459" x2="363.55" y2="459" stroke="#2f9a3a" stroke-width="0.9"/>
<polygon points="361,452.93 363.6,452.93 362.3,450.67" fill="#2f9a3a"/>
<polygon points="361,455.63 363.6,455.63 362.3,453.37" fill="#2f9a3a"/>
<polygon points="359.7,458.13 362.3,458.13 361,455.87" fill="#2f9a3a"/>
<polygon points="362.3,457.63 364.9,457.63 363.6,455.37" fill="#2f9a3a"/>
<line x1="380.2" y1="463.5" x2="380.2" y2="475.5" stroke="#1d4a86" stroke-width="0.9"/>
<line x1="378.2" y1="463.5" x2="382.2" y2="463.5" stroke="#1d4a86" stroke-width="0.9"/>
<line x1="378.2" y1="475.5" x2="382.2" y2="475.5" stroke="#1d4a86" stroke-width="0.9"/>
<polygon points="375.7,464.63 378.3,464.63 377,462.37" fill="#1d4a86"/>
<polygon points="382.5,465.13 385.1,465.13 383.8,462.87" fill="#1d4a86"/>
<polygon points="378.7,476.63 381.3,476.63 380,474.37" fill="#1d4a86"/>
<polygon points="380.2,468.13 382.8,468.13 381.5,465.87" fill="#1d4a86"/>
<line x1="398" y1="459" x2="398" y2="476" stroke="#e48a1c" stroke-width="0.9"/>
<line x1="396" y1="459" x2="400" y2="459" stroke="#e48a1c" stroke-width="0.9"/>
<line x1="396" y1="476" x2="400" y2="476" stroke="#e48a1c" stroke-width="0.9"/>
<circle cx="396" cy="459" r="1.2" fill="#e48a1c"/>
<circle cx="401.5" cy="461" r="1.2" fill="#e48a1c"/>
<circle cx="398" cy="475.5" r="1.2" fill="#e48a1c"/>
<line x1="415.6" y1="485.5" x2="415.6" y2="495" stroke="#f0c030" stroke-width="0.9"/>
<line x1="413.6" y1="485.5" x2="417.6" y2="485.5" stroke="#f0c030" stroke-width="0.9"/>
<line x1="413.6" y1="495" x2="417.6" y2="495" stroke="#f0c030" stroke-width="0.9"/>
<polygon points="412.3,487.04 414.7,487.04 413.5,484.96" fill="#f0c030"/>
<polygon points="416.8,487.04 419.2,487.04 418,484.96" fill="#f0c030"/>
<polygon points="414.4,495.54 416.8,495.54 415.6,493.46" fill="#f0c030"/>
<polygon points="414.4,491.04 416.8,491.04 415.6,488.96" fill="#f0c030"/>
<line x1="433.9" y1="492.5" x2="433.9" y2="503" stroke="#e1257f" stroke-width="0.9"/>
<line x1="432.65" y1="492.5" x2="435.15" y2="492.5" stroke="#e1257f" stroke-width="0.9"/>
<line x1="432.65" y1="503" x2="435.15" y2="503" stroke="#e1257f" stroke-width="0.9"/>
<polygon points="432.6,494.13 435.2,494.13 433.9,491.87" fill="#d6127a"/>
<polygon points="432.6,499.63 435.2,499.63 433.9,497.37" fill="#d6127a"/>
<polygon points="432.6,503.13 435.2,503.13 433.9,500.87" fill="#d6127a"/>
<polyline points="362.5,447.5 362.5,443.5 380.5,443.5 380.5,466.5" fill="none" stroke="#1a1a1a" stroke-width="1.05" stroke-linejoin="round"/>
<polyline points="362.5,434.5 362.5,428.5 415.5,428.5 415.5,482.5" fill="none" stroke="#1a1a1a" stroke-width="1.05" stroke-linejoin="round"/>
<polyline points="362.5,422.5 362.5,412.5 433.5,412.5 433.5,489.5" fill="none" stroke="#1a1a1a" stroke-width="1.05" stroke-linejoin="round"/>
<circle cx="371" cy="441" r="0.85" fill="#333"/>
<circle cx="388.8" cy="425.2" r="0.85" fill="#333"/>
<circle cx="397.9" cy="409.2" r="0.85" fill="#333"/>
<text x="0" y="0" font-size="6.4" fill="#222" text-anchor="end" textLength="63" lengthAdjust="spacingAndGlyphs" transform="translate(366.1 536.6) rotate(-45)">CD200R-CD28 BCMA</text>
<text x="0" y="0" font-size="6.4" fill="#222" text-anchor="end" textLength="18.5" lengthAdjust="spacingAndGlyphs" transform="translate(384 536.6) rotate(-45)">BCMA</text>
<text x="0" y="0" font-size="6.4" fill="#222" text-anchor="end" textLength="53.5" lengthAdjust="spacingAndGlyphs" transform="translate(401.8 536.6) rotate(-45)">CD200RDN BCMA</text>
<text x="0" y="0" font-size="6.4" fill="#222" text-anchor="end" textLength="39" lengthAdjust="spacingAndGlyphs" transform="translate(419.4 536.6) rotate(-45)">CD200R-CD28</text>
<text x="0" y="0" font-size="6.4" fill="#222" text-anchor="end" textLength="13" lengthAdjust="spacingAndGlyphs" transform="translate(437.7 536.6) rotate(-45)">UTD</text>
</svg>
<div class="f2"></div><div class="f4"></div><div class="f3"></div><div class="frame"></div>
</body></html>
